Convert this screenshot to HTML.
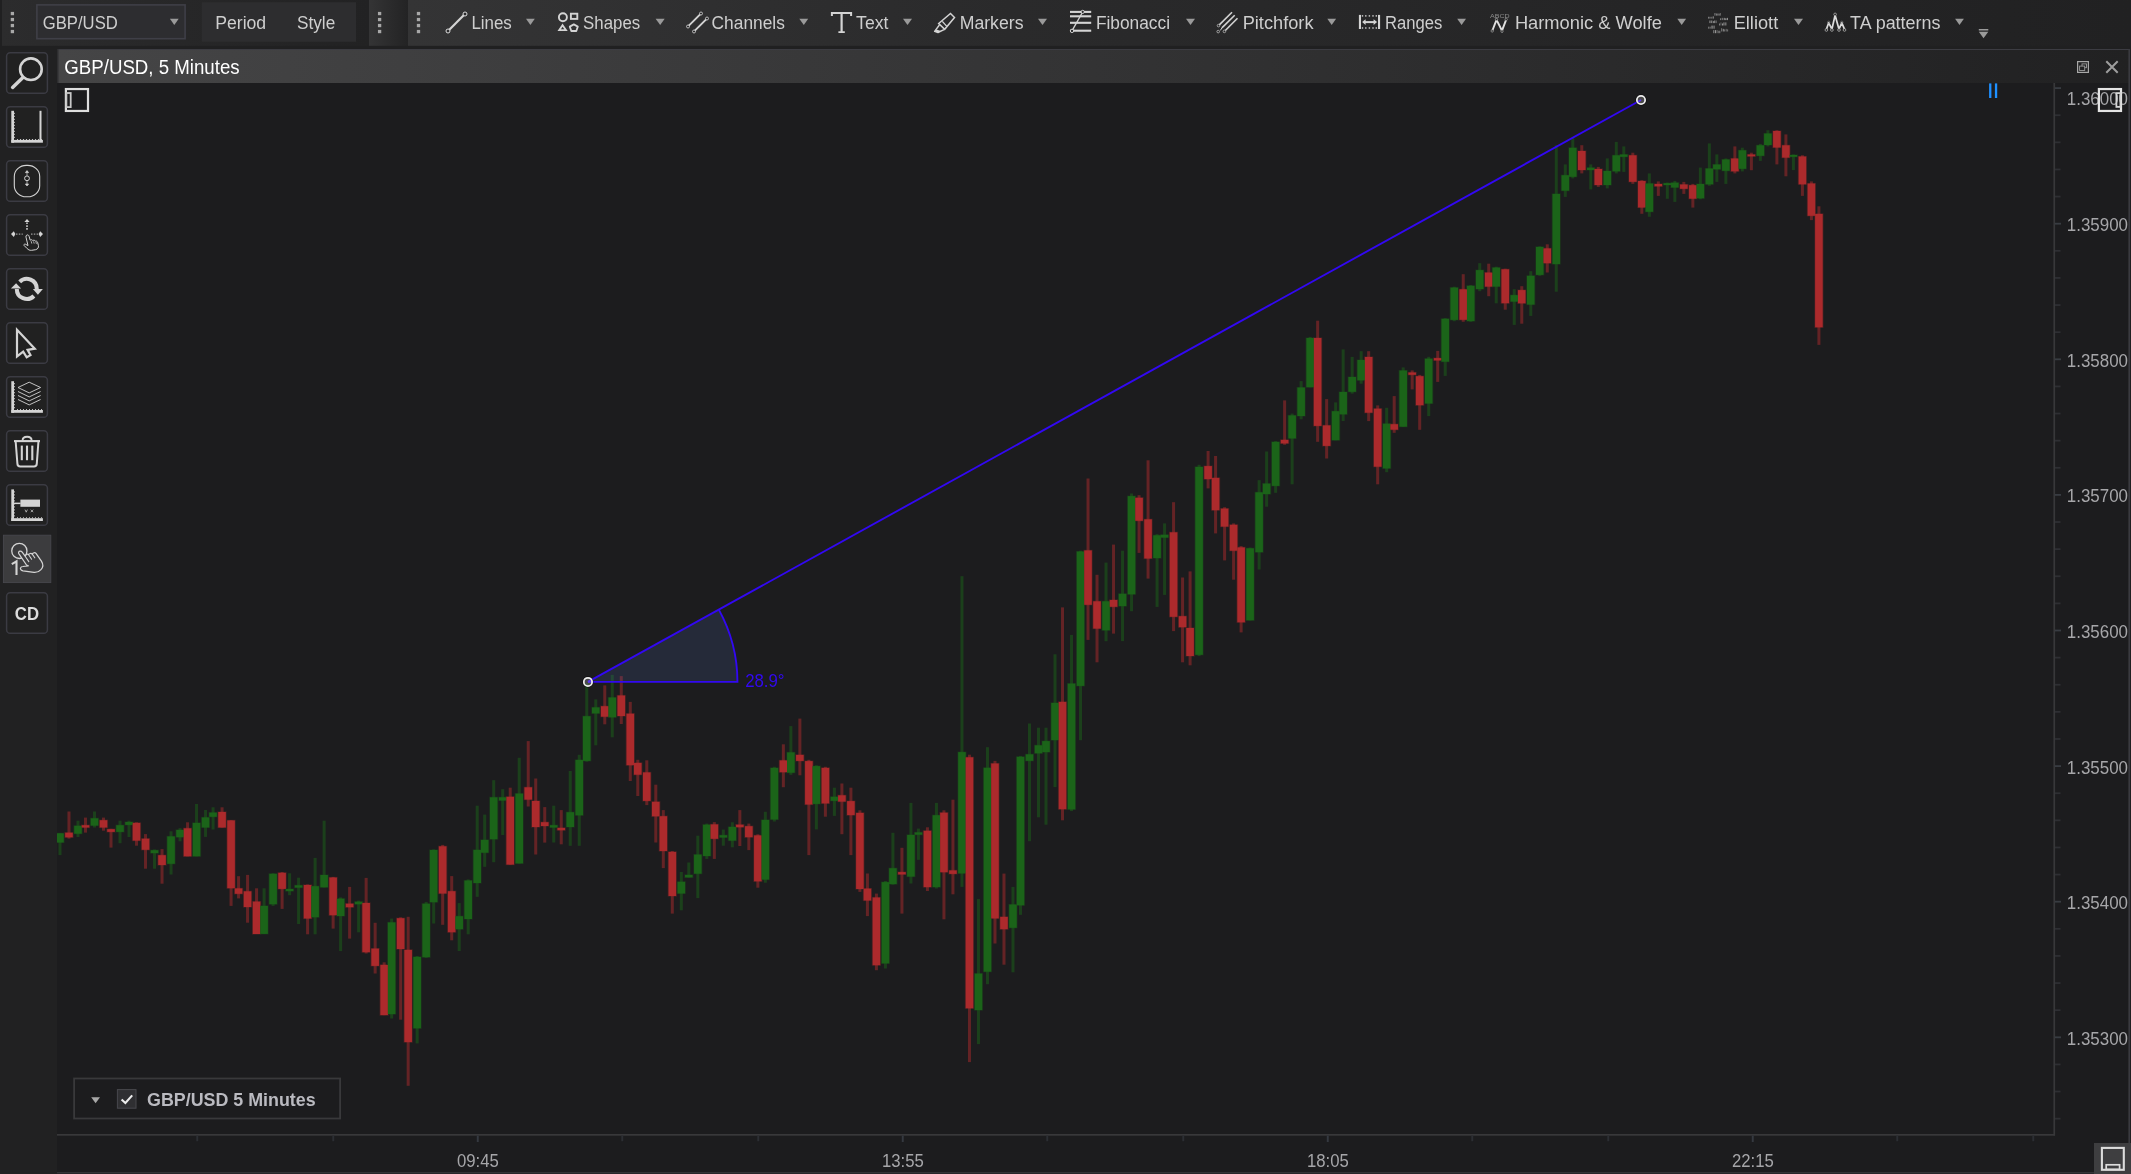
<!DOCTYPE html>
<html><head><meta charset="utf-8"><title>GBP/USD chart</title>
<style>
html,body{margin:0;padding:0;background:#1c1c1e;overflow:hidden;}
body{width:2131px;height:1174px;position:relative;font-family:"Liberation Sans", sans-serif;}
svg{position:absolute;left:0;top:0;display:block;will-change:transform;}
svg text{font-family:"Liberation Sans", sans-serif;white-space:pre;}
</style></head><body>
<svg width="2131" height="1174" viewBox="0 0 2131 1174">
<defs>
<linearGradient id="tb1" x1="0" x2="1" y1="0" y2="0"><stop offset="0" stop-color="#2c2c2d"/><stop offset="1" stop-color="#222223"/></linearGradient>
<linearGradient id="tb2" x1="0" x2="1" y1="0" y2="0"><stop offset="0" stop-color="#343435"/><stop offset="1" stop-color="#232324"/></linearGradient>
<linearGradient id="tb3" x1="0" x2="1" y1="0" y2="0"><stop offset="0" stop-color="#343435"/><stop offset="0.35" stop-color="#2a2a2b"/><stop offset="1" stop-color="#212122"/></linearGradient>
<linearGradient id="ttl" x1="0" x2="1" y1="0" y2="0"><stop offset="0" stop-color="#454546"/><stop offset="1" stop-color="#212122"/></linearGradient>
</defs>
<rect x="0" y="0" width="2131" height="1174" fill="#1c1c1e"/>
<rect x="0" y="0" width="2131" height="50" fill="#202021"/>
<rect x="2" y="0" width="367" height="45.8" fill="url(#tb1)"/>
<rect x="369" y="0" width="39" height="45.8" fill="url(#tb2)"/>
<rect x="408" y="0" width="1723" height="45.8" fill="url(#tb3)"/>
<rect x="0" y="50" width="57" height="1124" fill="#212122"/>
<rect x="57" y="49" width="2073" height="34" fill="url(#ttl)"/>
<rect x="57" y="49" width="2073" height="1" fill="#3c3c42"/>
<rect x="57" y="49" width="1.5" height="34" fill="#2e2e30"/>
<rect x="2128.4" y="49" width="1.6" height="1125" fill="#3a3a40"/>
<rect x="2130" y="49" width="1" height="1125" fill="#202021"/>
<rect x="57" y="1172" width="2073" height="1.5" fill="#333336"/>
<rect x="10.75" y="11.9" width="3.3" height="3.3" fill="#a8a8a8"/>
<rect x="10.75" y="17.9" width="3.3" height="3.3" fill="#a8a8a8"/>
<rect x="10.75" y="23.9" width="3.3" height="3.3" fill="#a8a8a8"/>
<rect x="10.75" y="29.9" width="3.3" height="3.3" fill="#a8a8a8"/>
<rect x="377.95" y="11.9" width="3.3" height="3.3" fill="#a8a8a8"/>
<rect x="377.95" y="17.9" width="3.3" height="3.3" fill="#a8a8a8"/>
<rect x="377.95" y="23.9" width="3.3" height="3.3" fill="#a8a8a8"/>
<rect x="377.95" y="29.9" width="3.3" height="3.3" fill="#a8a8a8"/>
<rect x="416.85" y="11.9" width="3.3" height="3.3" fill="#a8a8a8"/>
<rect x="416.85" y="17.9" width="3.3" height="3.3" fill="#a8a8a8"/>
<rect x="416.85" y="23.9" width="3.3" height="3.3" fill="#a8a8a8"/>
<rect x="416.85" y="29.9" width="3.3" height="3.3" fill="#a8a8a8"/>
<rect x="36.9" y="4.9" width="148.2" height="33.8" fill="#2d2d30" stroke="#3f3f47" stroke-width="1.6"/>
<text x="42.8" y="29.1" font-size="18.7" fill="#cecece" font-weight="normal" textLength="75.0" lengthAdjust="spacingAndGlyphs">GBP/USD</text>
<path d="M169.9 18.8 L178.7 18.8 L174.3 25.0 Z" fill="#9a9a9a"/>
<rect x="201.8" y="2.2" width="154.2" height="39.6" fill="#2d2d2f"/>
<text x="215.2" y="29.1" font-size="18.7" fill="#cecece" font-weight="normal" textLength="51.0" lengthAdjust="spacingAndGlyphs">Period</text>
<text x="297.0" y="29.1" font-size="18.7" fill="#cecece" font-weight="normal" textLength="38.2" lengthAdjust="spacingAndGlyphs">Style</text>
<text x="471.4" y="29.1" font-size="18.7" fill="#cecece" font-weight="normal" textLength="40.4" lengthAdjust="spacingAndGlyphs">Lines</text>
<path d="M526.0 18.8 L534.8 18.8 L530.4 25.0 Z" fill="#9a9a9a"/>
<text x="583.1" y="29.1" font-size="18.7" fill="#cecece" font-weight="normal" textLength="57.1" lengthAdjust="spacingAndGlyphs">Shapes</text>
<path d="M655.6 18.8 L664.7 18.8 L660.2 25.0 Z" fill="#9a9a9a"/>
<text x="711.6" y="29.1" font-size="18.7" fill="#cecece" font-weight="normal" textLength="73.3" lengthAdjust="spacingAndGlyphs">Channels</text>
<path d="M799.3 18.8 L808.2 18.8 L803.8 25.0 Z" fill="#9a9a9a"/>
<text x="856.1" y="29.1" font-size="18.7" fill="#cecece" font-weight="normal" textLength="32.4" lengthAdjust="spacingAndGlyphs">Text</text>
<path d="M903.0 18.8 L912.0 18.8 L907.5 25.0 Z" fill="#9a9a9a"/>
<text x="959.7" y="29.1" font-size="18.7" fill="#cecece" font-weight="normal" textLength="63.8" lengthAdjust="spacingAndGlyphs">Markers</text>
<path d="M1038.0 18.8 L1047.0 18.8 L1042.5 25.0 Z" fill="#9a9a9a"/>
<text x="1095.9" y="29.1" font-size="18.7" fill="#cecece" font-weight="normal" textLength="74.1" lengthAdjust="spacingAndGlyphs">Fibonacci</text>
<path d="M1186.0 18.8 L1195.0 18.8 L1190.5 25.0 Z" fill="#9a9a9a"/>
<text x="1242.7" y="29.1" font-size="18.7" fill="#cecece" font-weight="normal" textLength="70.8" lengthAdjust="spacingAndGlyphs">Pitchfork</text>
<path d="M1327.3 18.8 L1336.1 18.8 L1331.7 25.0 Z" fill="#9a9a9a"/>
<text x="1385.0" y="29.1" font-size="18.7" fill="#cecece" font-weight="normal" textLength="57.3" lengthAdjust="spacingAndGlyphs">Ranges</text>
<path d="M1457.2 18.8 L1466.0 18.8 L1461.6 25.0 Z" fill="#9a9a9a"/>
<text x="1514.9" y="29.1" font-size="18.7" fill="#cecece" font-weight="normal" textLength="147.0" lengthAdjust="spacingAndGlyphs">Harmonic &amp; Wolfe</text>
<path d="M1677.3 18.8 L1686.1 18.8 L1681.7 25.0 Z" fill="#9a9a9a"/>
<text x="1733.7" y="29.1" font-size="18.7" fill="#cecece" font-weight="normal" textLength="44.5" lengthAdjust="spacingAndGlyphs">Elliott</text>
<path d="M1794.0 18.8 L1803.0 18.8 L1798.5 25.0 Z" fill="#9a9a9a"/>
<text x="1850.1" y="29.1" font-size="18.7" fill="#cecece" font-weight="normal" textLength="90.4" lengthAdjust="spacingAndGlyphs">TA patterns</text>
<path d="M1955.1 18.8 L1963.9 18.8 L1959.5 25.0 Z" fill="#9a9a9a"/>
<rect x="1978.8" y="29" width="9.5" height="1.5" fill="#9a9a9a"/>
<path d="M1978.8 31.8 L1988.3 31.8 L1983.55 38.2 Z" fill="#9a9a9a"/>
<line x1="448.8" y1="30.2" x2="464.2" y2="14.8" stroke="#d4d4d4" stroke-width="2.2"/>
<circle cx="448" cy="31" r="2.0" fill="#2c2c2d" stroke="#ececec" stroke-width="0.9"/>
<circle cx="465" cy="14" r="2.0" fill="#2c2c2d" stroke="#ececec" stroke-width="0.9"/>
<circle cx="562.9" cy="17.3" r="4.0" fill="none" stroke="#d4d4d4" stroke-width="1.9"/>
<rect x="570.9" y="13.7" width="6.4" height="5.2" fill="none" stroke="#d4d4d4" stroke-width="1.9"/>
<path d="M562.6 25.2 L566 30.2 L559.2 30.2 Z" fill="none" stroke="#d4d4d4" stroke-width="1.8" stroke-linejoin="miter"/>
<path d="M573.8 24.4 L577.8 26.6 L576.3 31 L571.3 31 L569.8 26.6 Z" fill="none" stroke="#d4d4d4" stroke-width="1.8" stroke-linejoin="round"/>
<line x1="688.6" y1="25.9" x2="700.4" y2="14.1" stroke="#d4d4d4" stroke-width="1.9"/>
<line x1="694.6" y1="30.9" x2="706.4" y2="19.1" stroke="#d4d4d4" stroke-width="1.9"/>
<circle cx="688" cy="26.5" r="1.5" fill="#2c2c2d" stroke="#ececec" stroke-width="0.7"/>
<circle cx="701" cy="13.5" r="1.5" fill="#2c2c2d" stroke="#ececec" stroke-width="0.7"/>
<circle cx="694" cy="31.5" r="1.5" fill="#2c2c2d" stroke="#ececec" stroke-width="0.7"/>
<circle cx="707" cy="18.5" r="1.5" fill="#2c2c2d" stroke="#ececec" stroke-width="0.7"/>
<path d="M830.9 11.9 H852.1 V16.1 H850.1 V14.1 H842.7 V31.3 H844.8 V33 H838.4 V31.3 H840.5 V14.1 H832.9 V16.1 H830.9 Z" fill="#d4d4d4"/>
<path d="M950.5 13.5 L954.5 17.5 L944.7 29.3 L938.7 23.5 Z" fill="none" stroke="#d4d4d4" stroke-width="1.5" stroke-linejoin="miter"/>
<path d="M942.3 21.4 L946.6 26.1" fill="none" stroke="#d4d4d4" stroke-width="1.4"/>
<path d="M939.4 25 L934.6 31.4 L938 32.5 L944 29.6" fill="none" stroke="#d4d4d4" stroke-width="1.4" stroke-linejoin="round"/>
<path d="M936.6 29.4 L934.4 31.5 L938 32.6 L940.8 31 Z" fill="#d4d4d4"/>
<rect x="1070" y="10.85" width="21.2" height="2.1" fill="#d4d4d4"/>
<rect x="1070" y="15.25" width="21.2" height="2.1" fill="#d4d4d4"/>
<rect x="1070" y="21.75" width="21.2" height="2.1" fill="#d4d4d4"/>
<rect x="1070" y="29.65" width="21.2" height="2.1" fill="#d4d4d4"/>
<line x1="1072" y1="30.9" x2="1082.7" y2="11.9" stroke="#d4d4d4" stroke-width="1.3"/>
<circle cx="1072" cy="30.9" r="1.7" fill="#2c2c2d" stroke="#ececec" stroke-width="0.8"/>
<circle cx="1082.7" cy="11.9" r="1.6" fill="#2c2c2d" stroke="#ececec" stroke-width="0.8"/>
<line x1="1219.3" y1="24.9" x2="1232" y2="12.3" stroke="#d4d4d4" stroke-width="1.6"/>
<line x1="1221.9" y1="27.9" x2="1234.7" y2="15.3" stroke="#d4d4d4" stroke-width="1.6"/>
<line x1="1225.3" y1="30.5" x2="1237.5" y2="18.3" stroke="#d4d4d4" stroke-width="1.6"/>
<path d="M1221.9 27.9 L1220.4 30.4" stroke="#d4d4d4" stroke-width="1"/>
<circle cx="1218.5" cy="25.6" r="1.3" fill="none" stroke="#c8c8c8" stroke-width="0.7"/>
<circle cx="1218.2" cy="31.6" r="1.3" fill="none" stroke="#c8c8c8" stroke-width="0.7"/>
<circle cx="1224.4" cy="31.4" r="1.3" fill="none" stroke="#c8c8c8" stroke-width="0.7"/>
<rect x="1358.9" y="14.9" width="2.1" height="14.1" fill="#d4d4d4"/>
<rect x="1378" y="14.9" width="2.1" height="14.1" fill="#d4d4d4"/>
<rect x="1361.8" y="15.2" width="1.4" height="1.4" fill="#d4d4d4"/>
<rect x="1361.8" y="27.3" width="1.4" height="1.4" fill="#d4d4d4"/>
<rect x="1365.1" y="15.2" width="1.4" height="1.4" fill="#d4d4d4"/>
<rect x="1365.1" y="27.3" width="1.4" height="1.4" fill="#d4d4d4"/>
<rect x="1368.7" y="15.2" width="1.4" height="1.4" fill="#d4d4d4"/>
<rect x="1368.7" y="27.3" width="1.4" height="1.4" fill="#d4d4d4"/>
<rect x="1372.3" y="15.2" width="1.4" height="1.4" fill="#d4d4d4"/>
<rect x="1372.3" y="27.3" width="1.4" height="1.4" fill="#d4d4d4"/>
<rect x="1375.6" y="15.2" width="1.4" height="1.4" fill="#d4d4d4"/>
<rect x="1375.6" y="27.3" width="1.4" height="1.4" fill="#d4d4d4"/>
<rect x="1365" y="21.1" width="9.2" height="2" fill="#d4d4d4"/>
<path d="M1362.1 22.1 L1365.6 19.3 V24.9 Z M1377.1 22.1 L1373.6 19.3 V24.9 Z" fill="#d4d4d4"/>
<path d="M1492.4 30.5 L1496.5 19.8 L1502 30.7 L1506.1 19.8" fill="none" stroke="#e0e0e0" stroke-width="1.9" stroke-linejoin="miter"/>
<text x="1490.1" y="17.6" font-size="5.8" fill="#8c8c8c" textLength="19.6" lengthAdjust="spacingAndGlyphs">ABCD</text>
<circle cx="1492.2" cy="31" r="1.2" fill="#262626" stroke="#b0b0b0" stroke-width="0.6"/>
<circle cx="1496.5" cy="19.4" r="1.2" fill="#262626" stroke="#b0b0b0" stroke-width="0.6"/>
<circle cx="1502" cy="31.2" r="1.2" fill="#262626" stroke="#b0b0b0" stroke-width="0.6"/>
<circle cx="1506.2" cy="19.4" r="1.2" fill="#262626" stroke="#b0b0b0" stroke-width="0.6"/>
<rect x="1714.50" y="13.04" width="0.9" height="2.56" fill="#a2a2a2" opacity="0.85"/>
<rect x="1716.30" y="13.52" width="0.7" height="2.08" fill="#a2a2a2" opacity="1"/>
<rect x="1717.50" y="13.52" width="0.9" height="2.08" fill="#a2a2a2" opacity="1"/>
<rect x="1718.90" y="13.52" width="0.7" height="2.08" fill="#a2a2a2" opacity="0.85"/>
<rect x="1720.30" y="13.04" width="0.7" height="2.56" fill="#a2a2a2" opacity="0.7"/>
<rect x="1708.30" y="16.78" width="0.9" height="1.82" fill="#a2a2a2" opacity="1"/>
<rect x="1709.70" y="16.78" width="0.7" height="1.82" fill="#a2a2a2" opacity="1"/>
<rect x="1711.30" y="16.78" width="0.9" height="1.82" fill="#a2a2a2" opacity="0.7"/>
<rect x="1712.70" y="16.36" width="1.1" height="2.24" fill="#a2a2a2" opacity="0.85"/>
<rect x="1720.30" y="18.28" width="0.7" height="1.82" fill="#a2a2a2" opacity="1"/>
<rect x="1721.70" y="17.86" width="1.1" height="2.24" fill="#a2a2a2" opacity="0.7"/>
<rect x="1723.70" y="17.86" width="1.1" height="2.24" fill="#a2a2a2" opacity="0.85"/>
<rect x="1725.30" y="18.28" width="1.1" height="1.82" fill="#a2a2a2" opacity="1"/>
<rect x="1726.90" y="17.86" width="1.1" height="2.24" fill="#a2a2a2" opacity="0.85"/>
<rect x="1709.40" y="20.50" width="1.1" height="2.60" fill="#a2a2a2" opacity="0.85"/>
<rect x="1711.20" y="20.50" width="1.1" height="2.60" fill="#a2a2a2" opacity="0.85"/>
<rect x="1713.00" y="21.02" width="0.7" height="2.08" fill="#a2a2a2" opacity="1"/>
<rect x="1714.20" y="20.50" width="0.7" height="2.60" fill="#a2a2a2" opacity="1"/>
<rect x="1715.60" y="20.50" width="0.9" height="2.60" fill="#a2a2a2" opacity="0.85"/>
<rect x="1719.20" y="23.48" width="0.7" height="2.01" fill="#a2a2a2" opacity="1"/>
<rect x="1720.60" y="22.40" width="0.7" height="3.10" fill="#a2a2a2" opacity="0.7"/>
<rect x="1722.00" y="23.48" width="0.9" height="2.01" fill="#a2a2a2" opacity="1"/>
<rect x="1723.40" y="22.40" width="1.1" height="3.10" fill="#a2a2a2" opacity="0.85"/>
<rect x="1725.40" y="22.40" width="0.9" height="3.10" fill="#a2a2a2" opacity="1"/>
<rect x="1708.10" y="26.68" width="0.7" height="2.01" fill="#a2a2a2" opacity="0.85"/>
<rect x="1709.50" y="26.68" width="1.1" height="2.01" fill="#a2a2a2" opacity="0.7"/>
<rect x="1711.50" y="25.60" width="1.1" height="3.10" fill="#a2a2a2" opacity="1"/>
<rect x="1713.50" y="25.60" width="1.1" height="3.10" fill="#a2a2a2" opacity="0.85"/>
<rect x="1721.20" y="28.20" width="0.9" height="3.30" fill="#a2a2a2" opacity="0.7"/>
<rect x="1722.80" y="28.86" width="0.9" height="2.64" fill="#a2a2a2" opacity="1"/>
<rect x="1724.20" y="29.35" width="0.9" height="2.15" fill="#a2a2a2" opacity="0.7"/>
<rect x="1725.80" y="28.86" width="0.7" height="2.64" fill="#a2a2a2" opacity="0.85"/>
<rect x="1727.20" y="29.35" width="0.9" height="2.15" fill="#a2a2a2" opacity="0.7"/>
<rect x="1713.20" y="30.10" width="0.9" height="3.10" fill="#a2a2a2" opacity="0.7"/>
<rect x="1714.80" y="30.10" width="1.1" height="3.10" fill="#a2a2a2" opacity="1"/>
<rect x="1716.60" y="30.10" width="0.9" height="3.10" fill="#a2a2a2" opacity="0.7"/>
<rect x="1718.00" y="30.72" width="0.7" height="2.48" fill="#a2a2a2" opacity="0.7"/>
<rect x="1719.20" y="30.72" width="1.1" height="2.48" fill="#a2a2a2" opacity="0.7"/>
<path d="M1826.3 29.6 L1828.7 22.8 L1831.9 29.2 L1835.1 15.2 L1839 29.2 L1841.8 22.8 L1844.7 29.6" fill="none" stroke="#dcdcdc" stroke-width="1.7" stroke-linejoin="round"/>
<circle cx="1826.4" cy="30" r="1.35" fill="#242424" stroke="#bcbcbc" stroke-width="0.7"/>
<circle cx="1831.9" cy="30" r="1.35" fill="#242424" stroke="#bcbcbc" stroke-width="0.7"/>
<circle cx="1839" cy="30" r="1.35" fill="#242424" stroke="#bcbcbc" stroke-width="0.7"/>
<circle cx="1844.5" cy="30" r="1.35" fill="#242424" stroke="#bcbcbc" stroke-width="0.7"/>
<circle cx="1835.1" cy="14.4" r="1.35" fill="#242424" stroke="#bcbcbc" stroke-width="0.7"/>
<circle cx="1828.7" cy="22.3" r="1.2" fill="none" stroke="#9a9a9a" stroke-width="0.5"/>
<circle cx="1841.8" cy="22.3" r="1.2" fill="none" stroke="#9a9a9a" stroke-width="0.5"/>
<text x="64.3" y="73.8" font-size="20" fill="#ffffff" font-weight="normal" textLength="175.3" lengthAdjust="spacingAndGlyphs">GBP/USD, 5 Minutes</text>
<rect x="2077.6" y="61.6" width="10.8" height="10.8" fill="none" stroke="#a8a8a8" stroke-width="1.2"/>
<rect x="2082" y="63.9" width="4.5" height="3.8" fill="none" stroke="#9c9c9c" stroke-width="0.9"/>
<rect x="2079.6" y="66.1" width="5.1" height="4.4" fill="#232324" stroke="#9c9c9c" stroke-width="0.9"/>
<path d="M2106.3 61.3 L2117.7 72.7 M2117.7 61.3 L2106.3 72.7" stroke="#9e9e9e" stroke-width="2"/>
<rect x="6.6" y="52.7" width="40.8" height="40.6" rx="3.6" fill="#212121" stroke="#3b3b43" stroke-width="1.5"/>
<rect x="6.6" y="106.7" width="40.8" height="40.6" rx="3.6" fill="#212121" stroke="#3b3b43" stroke-width="1.5"/>
<rect x="6.6" y="160.7" width="40.8" height="40.6" rx="3.6" fill="#212121" stroke="#3b3b43" stroke-width="1.5"/>
<rect x="6.6" y="214.7" width="40.8" height="40.6" rx="3.6" fill="#212121" stroke="#3b3b43" stroke-width="1.5"/>
<rect x="6.6" y="268.7" width="40.8" height="40.6" rx="3.6" fill="#212121" stroke="#3b3b43" stroke-width="1.5"/>
<rect x="6.6" y="322.7" width="40.8" height="40.6" rx="3.6" fill="#212121" stroke="#3b3b43" stroke-width="1.5"/>
<rect x="6.6" y="376.7" width="40.8" height="40.6" rx="3.6" fill="#212121" stroke="#3b3b43" stroke-width="1.5"/>
<rect x="6.6" y="430.7" width="40.8" height="40.6" rx="3.6" fill="#212121" stroke="#3b3b43" stroke-width="1.5"/>
<rect x="6.6" y="484.7" width="40.8" height="40.6" rx="3.6" fill="#212121" stroke="#3b3b43" stroke-width="1.5"/>
<rect x="3.4" y="535.2" width="47.4" height="47.4" fill="#3c3c3e" stroke="#47474d" stroke-width="0.9"/>
<rect x="6.6" y="592.7" width="40.8" height="40.6" rx="3.6" fill="#212121" stroke="#3b3b43" stroke-width="1.5"/>
<circle cx="30.9" cy="69.2" r="10.8" fill="none" stroke="#d4d4d4" stroke-width="2.6"/>
<line x1="22.9" y1="77.6" x2="12.6" y2="87.4" stroke="#d4d4d4" stroke-width="3.5" stroke-linecap="round"/>
<rect x="11.3" y="110.8" width="2.7" height="31.89999999999999" fill="#d4d4d4"/>
<rect x="11.3" y="139.89999999999998" width="31.6" height="2.8" fill="#d4d4d4"/>
<rect x="14" y="112.8" width="0.9" height="1" fill="#d4d4d4"/>
<rect x="14" y="115.8" width="0.9" height="1" fill="#d4d4d4"/>
<rect x="14" y="118.8" width="0.9" height="1" fill="#d4d4d4"/>
<rect x="14" y="121.8" width="0.9" height="1" fill="#d4d4d4"/>
<rect x="14" y="124.8" width="0.9" height="1" fill="#d4d4d4"/>
<rect x="14" y="127.8" width="0.9" height="1" fill="#d4d4d4"/>
<rect x="14" y="130.8" width="0.9" height="1" fill="#d4d4d4"/>
<rect x="14" y="133.8" width="0.9" height="1" fill="#d4d4d4"/>
<rect x="14" y="136.8" width="0.9" height="1" fill="#d4d4d4"/>
<rect x="17.0" y="139.0" width="1" height="0.9" fill="#d4d4d4"/>
<rect x="20.0" y="139.0" width="1" height="0.9" fill="#d4d4d4"/>
<rect x="23.0" y="139.0" width="1" height="0.9" fill="#d4d4d4"/>
<rect x="26.0" y="139.0" width="1" height="0.9" fill="#d4d4d4"/>
<rect x="29.0" y="139.0" width="1" height="0.9" fill="#d4d4d4"/>
<rect x="32.0" y="139.0" width="1" height="0.9" fill="#d4d4d4"/>
<rect x="35.0" y="139.0" width="1" height="0.9" fill="#d4d4d4"/>
<rect x="38.0" y="139.0" width="1" height="0.9" fill="#d4d4d4"/>
<rect x="41.0" y="139.0" width="1" height="0.9" fill="#d4d4d4"/>
<rect x="39.5" y="110.8" width="2" height="29.89999999999999" fill="#d4d4d4"/>
<rect x="14.3" y="165.4" width="25.4" height="31.4" rx="12" ry="11" fill="none" stroke="#d4d4d4" stroke-width="1.1"/>
<circle cx="27" cy="178.3" r="2.4" fill="none" stroke="#d4d4d4" stroke-width="1"/>
<path d="M27 171.6 V175.6 M27 181 V185 M25.4 172.6 L27 170.6 L28.6 172.6 Z M25.4 184 L27 186 L28.6 184 Z" fill="#d4d4d4" stroke="#d4d4d4" stroke-width="0.7"/>
<path d="M27 222.5 V230.5" stroke="#d4d4d4" stroke-width="1.5" stroke-dasharray="1.6 1.2"/>
<path d="M24.4 222 L27 218.9 L29.6 222 Z" fill="#d4d4d4"/>
<path d="M16 234.1 H22.8 M31 234.1 H38.2" stroke="#9c9c9c" stroke-width="1.2" stroke-dasharray="1.5 1.3"/>
<path d="M13.8 231.3 L11 234.1 L13.8 236.9 L15.4 234.1 Z M40.2 231.3 L43 234.1 L40.2 236.9 L38.6 234.1 Z" fill="#d4d4d4"/>
<path d="M26.6 235.2 C27.8 234.4 28.9 235.2 29.2 236.6 L30.2 240.2 C31.2 239.4 32.3 239.6 32.8 240.6 C33.8 239.9 34.9 240.2 35.3 241.2 C36.4 240.8 37.3 241.4 37.6 242.4 L38.4 245.4 C38.9 247.6 37.6 249.2 35.6 249.7 L31.6 250.3 C29.6 250.5 28.4 249.8 27.2 248.6 L24 245.4 C23.6 244.6 24.4 243.8 25.4 244.2 L28 245.6 L26 237.2 C25.8 236.4 26 235.6 26.6 235.2 Z" fill="none" stroke="#d4d4d4" stroke-width="1"/>
<path d="M31.2 241.2 L31.8 243.6 M33.6 241.4 L34.2 243.6 M36 242 L36.4 243.8" stroke="#d4d4d4" stroke-width="0.8" fill="none"/>
<path d="M19.7 281.8 A10 10 0 0 1 36.8 288.9" fill="none" stroke="#d4d4d4" stroke-width="4"/>
<path d="M33.9 296 A10 10 0 0 1 16.8 288.9" fill="none" stroke="#d4d4d4" stroke-width="4"/>
<path d="M10.9 288.6 L21.1 288.6 L16.1 283.2 Z" fill="#d4d4d4"/>
<path d="M32.9 289.1 L42.9 289.1 L37.9 294.8 Z" fill="#d4d4d4"/>
<path d="M17 329.7 V356.4 L23.2 351.6 L26.7 357.3 L30.5 355.1 L27.6 349.8 L34.8 348.7 Z" fill="#212121" stroke="#d4d4d4" stroke-width="2.2" stroke-linejoin="miter" stroke-miterlimit="8"/>
<rect x="11.3" y="381.2" width="2.7" height="31.600000000000023" fill="#d4d4d4"/>
<rect x="11.3" y="410.0" width="31.6" height="2.8" fill="#d4d4d4"/>
<rect x="14" y="383.2" width="0.9" height="1" fill="#d4d4d4"/>
<rect x="14" y="386.2" width="0.9" height="1" fill="#d4d4d4"/>
<rect x="14" y="389.2" width="0.9" height="1" fill="#d4d4d4"/>
<rect x="14" y="392.2" width="0.9" height="1" fill="#d4d4d4"/>
<rect x="14" y="395.2" width="0.9" height="1" fill="#d4d4d4"/>
<rect x="14" y="398.2" width="0.9" height="1" fill="#d4d4d4"/>
<rect x="14" y="401.2" width="0.9" height="1" fill="#d4d4d4"/>
<rect x="14" y="404.2" width="0.9" height="1" fill="#d4d4d4"/>
<rect x="14" y="407.2" width="0.9" height="1" fill="#d4d4d4"/>
<rect x="17.0" y="409.1" width="1" height="0.9" fill="#d4d4d4"/>
<rect x="20.0" y="409.1" width="1" height="0.9" fill="#d4d4d4"/>
<rect x="23.0" y="409.1" width="1" height="0.9" fill="#d4d4d4"/>
<rect x="26.0" y="409.1" width="1" height="0.9" fill="#d4d4d4"/>
<rect x="29.0" y="409.1" width="1" height="0.9" fill="#d4d4d4"/>
<rect x="32.0" y="409.1" width="1" height="0.9" fill="#d4d4d4"/>
<rect x="35.0" y="409.1" width="1" height="0.9" fill="#d4d4d4"/>
<rect x="38.0" y="409.1" width="1" height="0.9" fill="#d4d4d4"/>
<rect x="41.0" y="409.1" width="1" height="0.9" fill="#d4d4d4"/>
<path d="M29.2 382.2 L40.6 387.5 L29.2 392.9 L18 387.5 Z" fill="none" stroke="#d4d4d4" stroke-width="0.9"/>
<path d="M18 391.5 L29.2 396.9 L40.6 391.5" fill="none" stroke="#d4d4d4" stroke-width="0.9"/>
<path d="M18 395.5 L29.2 400.9 L40.6 395.5" fill="none" stroke="#d4d4d4" stroke-width="0.9"/>
<path d="M18 399.5 L29.2 404.9 L40.6 399.5" fill="none" stroke="#d4d4d4" stroke-width="0.9"/>
<path d="M14 441.1 H40" stroke="#d4d4d4" stroke-width="2.1"/>
<path d="M22.6 440.4 C22.6 435.6 31.6 435.6 31.6 440.4" fill="none" stroke="#d4d4d4" stroke-width="1.9"/>
<path d="M15.7 442 L17.4 463.6 C17.5 465.6 18.6 466.4 20.2 466.4 H34 C35.6 466.4 36.7 465.6 36.8 463.6 L38.4 442" fill="none" stroke="#d4d4d4" stroke-width="2"/>
<rect x="20.75" y="445.6" width="2.1" height="14.6" fill="#d4d4d4"/>
<rect x="25.95" y="445.6" width="2.1" height="14.6" fill="#d4d4d4"/>
<rect x="31.249999999999996" y="445.6" width="2.1" height="14.6" fill="#d4d4d4"/>
<rect x="11.3" y="489.4" width="2.7" height="31.600000000000023" fill="#d4d4d4"/>
<rect x="11.3" y="518.2" width="31.6" height="2.8" fill="#d4d4d4"/>
<rect x="14" y="491.4" width="0.9" height="1" fill="#d4d4d4"/>
<rect x="14" y="494.4" width="0.9" height="1" fill="#d4d4d4"/>
<rect x="14" y="497.4" width="0.9" height="1" fill="#d4d4d4"/>
<rect x="14" y="500.4" width="0.9" height="1" fill="#d4d4d4"/>
<rect x="14" y="503.4" width="0.9" height="1" fill="#d4d4d4"/>
<rect x="14" y="506.4" width="0.9" height="1" fill="#d4d4d4"/>
<rect x="14" y="509.4" width="0.9" height="1" fill="#d4d4d4"/>
<rect x="14" y="512.4" width="0.9" height="1" fill="#d4d4d4"/>
<rect x="14" y="515.4" width="0.9" height="1" fill="#d4d4d4"/>
<rect x="17.0" y="517.3" width="1" height="0.9" fill="#d4d4d4"/>
<rect x="20.0" y="517.3" width="1" height="0.9" fill="#d4d4d4"/>
<rect x="23.0" y="517.3" width="1" height="0.9" fill="#d4d4d4"/>
<rect x="26.0" y="517.3" width="1" height="0.9" fill="#d4d4d4"/>
<rect x="29.0" y="517.3" width="1" height="0.9" fill="#d4d4d4"/>
<rect x="32.0" y="517.3" width="1" height="0.9" fill="#d4d4d4"/>
<rect x="35.0" y="517.3" width="1" height="0.9" fill="#d4d4d4"/>
<rect x="38.0" y="517.3" width="1" height="0.9" fill="#d4d4d4"/>
<rect x="41.0" y="517.3" width="1" height="0.9" fill="#d4d4d4"/>
<rect x="14" y="502.6" width="6.6" height="1.5" fill="#d4d4d4"/>
<rect x="20.4" y="499.6" width="19.6" height="7.2" fill="#d4d4d4"/>
<path d="M25 509.6 L26.2 512.2 L27.4 509.6 M30.8 509.6 L33.2 512.2 M33.2 509.6 L30.8 512.2" fill="none" stroke="#d4d4d4" stroke-width="0.7"/>
<circle cx="19.35" cy="550.9" r="7.6" fill="none" stroke="#d4d4d4" stroke-width="1.3"/>
<path d="M11.8 564.2 L16.5 561.4 V575" fill="none" stroke="#d4d4d4" stroke-width="2.1" stroke-linejoin="miter"/>
<path d="M26.5 565 L18.8 553.6 C18.2 552.4 18.8 551.2 20 551.1 C21 551 21.6 551.4 22.2 552.2 L25.3 556.4 C25.6 554.6 27.4 553.6 28.6 554.6 C29.4 553.4 31.2 553 32.2 554.2 C33 552.6 35 552.2 36 553.4 L41.4 561.2 C43.4 564.4 43.2 567.4 41 569.6 C39 571.8 36.6 572.6 34 572.4 L23 570.8 C21 570.4 20 569 20.6 567.8 C21 566.8 21.8 566.6 23 566.5 L28.3 565.9 Z" fill="#3c3c3e" stroke="#d4d4d4" stroke-width="1.25" stroke-linejoin="round"/>
<path d="M25.5 556.8 L28.8 561.6 M28.8 555 L31.6 559.2 M32.4 554.4 L34.8 557.8" stroke="#d4d4d4" stroke-width="1.1" fill="none" stroke-linecap="round"/>
<text x="14.8" y="620.0" font-size="18" fill="#dcdcdc" font-weight="bold" textLength="24.2" lengthAdjust="spacingAndGlyphs">CD</text>
<rect x="2053.4" y="83" width="1.7" height="1052.5" fill="#38383a"/>
<rect x="57" y="1134" width="1998" height="1.7" fill="#38383a"/>
<rect x="2055" y="87.20" width="6" height="1.8" fill="#383c42"/>
<rect x="2055" y="114.32" width="5.5" height="1.8" fill="#2e2f33"/>
<rect x="2055" y="141.44" width="5.5" height="1.8" fill="#2e2f33"/>
<rect x="2055" y="168.56" width="5.5" height="1.8" fill="#2e2f33"/>
<rect x="2055" y="195.68" width="5.5" height="1.8" fill="#2e2f33"/>
<rect x="2055" y="222.80" width="6" height="1.8" fill="#383c42"/>
<rect x="2055" y="249.92" width="5.5" height="1.8" fill="#2e2f33"/>
<rect x="2055" y="277.04" width="5.5" height="1.8" fill="#2e2f33"/>
<rect x="2055" y="304.16" width="5.5" height="1.8" fill="#2e2f33"/>
<rect x="2055" y="331.28" width="5.5" height="1.8" fill="#2e2f33"/>
<rect x="2055" y="358.40" width="6" height="1.8" fill="#383c42"/>
<rect x="2055" y="385.52" width="5.5" height="1.8" fill="#2e2f33"/>
<rect x="2055" y="412.64" width="5.5" height="1.8" fill="#2e2f33"/>
<rect x="2055" y="439.76" width="5.5" height="1.8" fill="#2e2f33"/>
<rect x="2055" y="466.88" width="5.5" height="1.8" fill="#2e2f33"/>
<rect x="2055" y="494.00" width="6" height="1.8" fill="#383c42"/>
<rect x="2055" y="521.12" width="5.5" height="1.8" fill="#2e2f33"/>
<rect x="2055" y="548.24" width="5.5" height="1.8" fill="#2e2f33"/>
<rect x="2055" y="575.36" width="5.5" height="1.8" fill="#2e2f33"/>
<rect x="2055" y="602.48" width="5.5" height="1.8" fill="#2e2f33"/>
<rect x="2055" y="629.60" width="6" height="1.8" fill="#383c42"/>
<rect x="2055" y="656.72" width="5.5" height="1.8" fill="#2e2f33"/>
<rect x="2055" y="683.84" width="5.5" height="1.8" fill="#2e2f33"/>
<rect x="2055" y="710.96" width="5.5" height="1.8" fill="#2e2f33"/>
<rect x="2055" y="738.08" width="5.5" height="1.8" fill="#2e2f33"/>
<rect x="2055" y="765.20" width="6" height="1.8" fill="#383c42"/>
<rect x="2055" y="792.32" width="5.5" height="1.8" fill="#2e2f33"/>
<rect x="2055" y="819.44" width="5.5" height="1.8" fill="#2e2f33"/>
<rect x="2055" y="846.56" width="5.5" height="1.8" fill="#2e2f33"/>
<rect x="2055" y="873.68" width="5.5" height="1.8" fill="#2e2f33"/>
<rect x="2055" y="900.80" width="6" height="1.8" fill="#383c42"/>
<rect x="2055" y="927.92" width="5.5" height="1.8" fill="#2e2f33"/>
<rect x="2055" y="955.04" width="5.5" height="1.8" fill="#2e2f33"/>
<rect x="2055" y="982.16" width="5.5" height="1.8" fill="#2e2f33"/>
<rect x="2055" y="1009.28" width="5.5" height="1.8" fill="#2e2f33"/>
<rect x="2055" y="1036.40" width="6" height="1.8" fill="#383c42"/>
<rect x="2055" y="1063.52" width="5.5" height="1.8" fill="#2e2f33"/>
<rect x="2055" y="1090.64" width="5.5" height="1.8" fill="#2e2f33"/>
<rect x="2055" y="1117.76" width="5.5" height="1.8" fill="#2e2f33"/>
<text x="2066.8" y="105.4" font-size="18.8" fill="#a6a6a9" font-weight="normal" textLength="61.2" lengthAdjust="spacingAndGlyphs">1.36000</text>
<text x="2066.8" y="231.1" font-size="18.8" fill="#a6a6a9" font-weight="normal" textLength="61.2" lengthAdjust="spacingAndGlyphs">1.35900</text>
<text x="2066.8" y="366.7" font-size="18.8" fill="#a6a6a9" font-weight="normal" textLength="61.2" lengthAdjust="spacingAndGlyphs">1.35800</text>
<text x="2066.8" y="502.3" font-size="18.8" fill="#a6a6a9" font-weight="normal" textLength="61.2" lengthAdjust="spacingAndGlyphs">1.35700</text>
<text x="2066.8" y="637.9" font-size="18.8" fill="#a6a6a9" font-weight="normal" textLength="61.2" lengthAdjust="spacingAndGlyphs">1.35600</text>
<text x="2066.8" y="773.5" font-size="18.8" fill="#a6a6a9" font-weight="normal" textLength="61.2" lengthAdjust="spacingAndGlyphs">1.35500</text>
<text x="2066.8" y="909.1" font-size="18.8" fill="#a6a6a9" font-weight="normal" textLength="61.2" lengthAdjust="spacingAndGlyphs">1.35400</text>
<text x="2066.8" y="1044.7" font-size="18.8" fill="#a6a6a9" font-weight="normal" textLength="61.2" lengthAdjust="spacingAndGlyphs">1.35300</text>
<rect x="476.80" y="1135.6" width="1.9" height="6.4" fill="#353940"/>
<rect x="621.30" y="1135.6" width="1.9" height="5.6" fill="#2c2e33"/>
<rect x="757.30" y="1135.6" width="1.9" height="5.6" fill="#2c2e33"/>
<rect x="901.80" y="1135.6" width="1.9" height="6.4" fill="#353940"/>
<rect x="1046.30" y="1135.6" width="1.9" height="5.6" fill="#2c2e33"/>
<rect x="1182.30" y="1135.6" width="1.9" height="5.6" fill="#2c2e33"/>
<rect x="1326.80" y="1135.6" width="1.9" height="6.4" fill="#353940"/>
<rect x="1471.30" y="1135.6" width="1.9" height="5.6" fill="#2c2e33"/>
<rect x="1607.30" y="1135.6" width="1.9" height="5.6" fill="#2c2e33"/>
<rect x="1751.80" y="1135.6" width="1.9" height="6.4" fill="#353940"/>
<rect x="1896.30" y="1135.6" width="1.9" height="5.6" fill="#2c2e33"/>
<rect x="2032.30" y="1135.6" width="1.9" height="5.6" fill="#2c2e33"/>
<rect x="332.30" y="1135.6" width="1.9" height="5.6" fill="#2c2e33"/>
<rect x="196.30" y="1135.6" width="1.9" height="5.6" fill="#2c2e33"/>
<text x="456.9" y="1166.9" font-size="18.8" fill="#a6a6a9" font-weight="normal" textLength="41.9" lengthAdjust="spacingAndGlyphs">09:45</text>
<text x="882.0" y="1166.9" font-size="18.8" fill="#a6a6a9" font-weight="normal" textLength="41.8" lengthAdjust="spacingAndGlyphs">13:55</text>
<text x="1307.0" y="1166.9" font-size="18.8" fill="#a6a6a9" font-weight="normal" textLength="41.8" lengthAdjust="spacingAndGlyphs">18:05</text>
<text x="1732.0" y="1166.9" font-size="18.8" fill="#a6a6a9" font-weight="normal" textLength="41.8" lengthAdjust="spacingAndGlyphs">22:15</text>
<clipPath id="cclip"><rect x="57" y="83" width="1996.4" height="1051"/></clipPath>
<g clip-path="url(#cclip)">
<g opacity="0.5"><rect x="58.48" y="833.2" width="3" height="21.9" fill="#1b6419"/><rect x="67.48" y="811.5" width="3" height="27.1" fill="#ac2a2c"/><rect x="76.49" y="820.7" width="3" height="16.3" fill="#1b6419"/><rect x="83.99" y="817.6" width="3" height="15.0" fill="#ac2a2c"/><rect x="93.00" y="811.5" width="3" height="16.0" fill="#1b6419"/><rect x="102.00" y="817.6" width="3" height="13.1" fill="#ac2a2c"/><rect x="109.50" y="828.8" width="3" height="18.8" fill="#ac2a2c"/><rect x="118.51" y="820.7" width="3" height="22.5" fill="#1b6419"/><rect x="127.51" y="820.7" width="3" height="16.3" fill="#1b6419"/><rect x="135.02" y="822.3" width="3" height="23.4" fill="#ac2a2c"/><rect x="144.02" y="834.1" width="3" height="34.6" fill="#ac2a2c"/><rect x="153.03" y="849.5" width="3" height="19.2" fill="#1b6419"/><rect x="160.53" y="849.1" width="3" height="34.6" fill="#ac2a2c"/><rect x="169.54" y="831.3" width="3" height="43.2" fill="#1b6419"/><rect x="178.54" y="828.2" width="3" height="13.1" fill="#1b6419"/><rect x="186.05" y="822.3" width="3" height="34.1" fill="#ac2a2c"/><rect x="195.05" y="804.0" width="3" height="52.3" fill="#1b6419"/><rect x="204.05" y="810.0" width="3" height="26.9" fill="#1b6419"/><rect x="211.56" y="807.3" width="3" height="22.2" fill="#1b6419"/><rect x="220.56" y="807.3" width="3" height="20.3" fill="#ac2a2c"/><rect x="229.57" y="820.1" width="3" height="85.8" fill="#ac2a2c"/><rect x="237.07" y="876.2" width="3" height="22.2" fill="#ac2a2c"/><rect x="246.08" y="874.9" width="3" height="47.8" fill="#ac2a2c"/><rect x="255.08" y="888.3" width="3" height="45.7" fill="#ac2a2c"/><rect x="262.59" y="888.3" width="3" height="45.7" fill="#1b6419"/><rect x="271.59" y="873.3" width="3" height="32.6" fill="#1b6419"/><rect x="280.60" y="872.0" width="3" height="36.9" fill="#ac2a2c"/><rect x="288.10" y="873.3" width="3" height="21.9" fill="#1b6419"/><rect x="297.10" y="877.7" width="3" height="46.3" fill="#1b6419"/><rect x="306.11" y="884.4" width="3" height="49.9" fill="#ac2a2c"/><rect x="313.61" y="857.9" width="3" height="76.4" fill="#1b6419"/><rect x="322.62" y="820.7" width="3" height="66.7" fill="#1b6419"/><rect x="331.62" y="876.9" width="3" height="51.7" fill="#ac2a2c"/><rect x="339.13" y="897.4" width="3" height="53.7" fill="#1b6419"/><rect x="348.13" y="886.9" width="3" height="51.7" fill="#ac2a2c"/><rect x="357.14" y="900.6" width="3" height="31.7" fill="#1b6419"/><rect x="364.64" y="877.9" width="3" height="75.6" fill="#ac2a2c"/><rect x="373.65" y="922.8" width="3" height="50.7" fill="#ac2a2c"/><rect x="382.65" y="962.3" width="3" height="52.9" fill="#ac2a2c"/><rect x="390.15" y="918.6" width="3" height="99.9" fill="#1b6419"/><rect x="399.16" y="917.3" width="3" height="102.4" fill="#ac2a2c"/><rect x="406.66" y="916.8" width="3" height="169.0" fill="#ac2a2c"/><rect x="415.67" y="956.0" width="3" height="87.4" fill="#1b6419"/><rect x="424.67" y="901.9" width="3" height="55.9" fill="#1b6419"/><rect x="432.18" y="849.4" width="3" height="74.1" fill="#1b6419"/><rect x="441.18" y="844.9" width="3" height="79.9" fill="#ac2a2c"/><rect x="450.19" y="876.1" width="3" height="64.2" fill="#ac2a2c"/><rect x="457.69" y="903.1" width="3" height="47.9" fill="#1b6419"/><rect x="466.69" y="879.4" width="3" height="54.9" fill="#1b6419"/><rect x="475.70" y="805.7" width="3" height="91.1" fill="#1b6419"/><rect x="483.20" y="814.6" width="3" height="52.2" fill="#1b6419"/><rect x="492.21" y="780.2" width="3" height="82.0" fill="#1b6419"/><rect x="501.21" y="789.2" width="3" height="45.8" fill="#1b6419"/><rect x="508.72" y="787.7" width="3" height="77.0" fill="#ac2a2c"/><rect x="517.72" y="757.8" width="3" height="105.7" fill="#1b6419"/><rect x="526.73" y="741.1" width="3" height="65.4" fill="#ac2a2c"/><rect x="534.23" y="778.5" width="3" height="76.0" fill="#ac2a2c"/><rect x="543.24" y="807.1" width="3" height="35.5" fill="#ac2a2c"/><rect x="552.24" y="805.7" width="3" height="36.8" fill="#1b6419"/><rect x="559.74" y="810.1" width="3" height="34.2" fill="#ac2a2c"/><rect x="568.75" y="771.0" width="3" height="74.8" fill="#1b6419"/><rect x="577.75" y="754.8" width="3" height="91.0" fill="#1b6419"/><rect x="585.26" y="683.6" width="3" height="78.1" fill="#1b6419"/><rect x="594.26" y="699.4" width="3" height="45.9" fill="#1b6419"/><rect x="603.27" y="685.4" width="3" height="38.9" fill="#ac2a2c"/><rect x="610.77" y="674.9" width="3" height="62.4" fill="#1b6419"/><rect x="619.78" y="676.1" width="3" height="47.9" fill="#ac2a2c"/><rect x="628.78" y="701.9" width="3" height="79.1" fill="#ac2a2c"/><rect x="636.29" y="759.8" width="3" height="36.2" fill="#ac2a2c"/><rect x="645.29" y="760.3" width="3" height="44.8" fill="#ac2a2c"/><rect x="654.29" y="784.7" width="3" height="57.8" fill="#ac2a2c"/><rect x="661.80" y="810.1" width="3" height="58.0" fill="#ac2a2c"/><rect x="670.80" y="851.0" width="3" height="62.6" fill="#ac2a2c"/><rect x="679.81" y="872.0" width="3" height="38.3" fill="#1b6419"/><rect x="687.31" y="862.5" width="3" height="15.0" fill="#1b6419"/><rect x="696.32" y="835.7" width="3" height="62.4" fill="#1b6419"/><rect x="705.32" y="823.6" width="3" height="35.3" fill="#1b6419"/><rect x="712.83" y="822.1" width="3" height="36.8" fill="#ac2a2c"/><rect x="721.83" y="829.6" width="3" height="16.1" fill="#1b6419"/><rect x="730.84" y="822.3" width="3" height="25.0" fill="#1b6419"/><rect x="738.34" y="810.1" width="3" height="35.9" fill="#ac2a2c"/><rect x="747.34" y="823.6" width="3" height="26.5" fill="#ac2a2c"/><rect x="756.35" y="834.3" width="3" height="53.4" fill="#ac2a2c"/><rect x="763.85" y="811.8" width="3" height="70.9" fill="#1b6419"/><rect x="772.86" y="766.8" width="3" height="54.7" fill="#1b6419"/><rect x="781.86" y="744.3" width="3" height="42.9" fill="#ac2a2c"/><rect x="789.37" y="726.1" width="3" height="48.7" fill="#1b6419"/><rect x="798.37" y="718.6" width="3" height="56.7" fill="#ac2a2c"/><rect x="807.38" y="759.8" width="3" height="95.3" fill="#ac2a2c"/><rect x="814.88" y="765.3" width="3" height="64.1" fill="#1b6419"/><rect x="823.89" y="766.8" width="3" height="49.9" fill="#ac2a2c"/><rect x="832.89" y="787.7" width="3" height="28.2" fill="#1b6419"/><rect x="840.39" y="783.5" width="3" height="50.7" fill="#ac2a2c"/><rect x="849.40" y="787.7" width="3" height="67.4" fill="#ac2a2c"/><rect x="858.40" y="810.3" width="3" height="81.6" fill="#ac2a2c"/><rect x="865.91" y="873.5" width="3" height="42.6" fill="#ac2a2c"/><rect x="874.91" y="893.6" width="3" height="76.6" fill="#ac2a2c"/><rect x="883.92" y="881.0" width="3" height="87.5" fill="#1b6419"/><rect x="891.42" y="832.8" width="3" height="51.9" fill="#1b6419"/><rect x="900.43" y="847.8" width="3" height="65.8" fill="#ac2a2c"/><rect x="909.43" y="802.9" width="3" height="80.6" fill="#1b6419"/><rect x="916.93" y="828.6" width="3" height="31.2" fill="#1b6419"/><rect x="925.94" y="827.3" width="3" height="63.7" fill="#ac2a2c"/><rect x="934.94" y="802.9" width="3" height="85.6" fill="#1b6419"/><rect x="942.45" y="810.3" width="3" height="109.0" fill="#ac2a2c"/><rect x="951.45" y="799.7" width="3" height="94.6" fill="#ac2a2c"/><rect x="960.46" y="576.2" width="3" height="310.7" fill="#1b6419"/><rect x="967.96" y="754.7" width="3" height="307.4" fill="#ac2a2c"/><rect x="976.97" y="899.1" width="3" height="145.0" fill="#1b6419"/><rect x="985.97" y="747.2" width="3" height="237.0" fill="#1b6419"/><rect x="993.48" y="760.9" width="3" height="182.6" fill="#ac2a2c"/><rect x="1002.48" y="873.6" width="3" height="91.1" fill="#ac2a2c"/><rect x="1011.49" y="886.9" width="3" height="85.4" fill="#1b6419"/><rect x="1018.99" y="755.9" width="3" height="158.9" fill="#1b6419"/><rect x="1027.99" y="723.5" width="3" height="117.7" fill="#1b6419"/><rect x="1037.00" y="727.7" width="3" height="89.6" fill="#1b6419"/><rect x="1044.50" y="727.7" width="3" height="97.0" fill="#1b6419"/><rect x="1053.51" y="654.3" width="3" height="132.8" fill="#1b6419"/><rect x="1061.01" y="607.4" width="3" height="212.9" fill="#ac2a2c"/><rect x="1070.02" y="634.9" width="3" height="176.2" fill="#1b6419"/><rect x="1079.02" y="550.7" width="3" height="189.5" fill="#1b6419"/><rect x="1086.53" y="478.5" width="3" height="161.4" fill="#ac2a2c"/><rect x="1095.53" y="574.8" width="3" height="87.5" fill="#ac2a2c"/><rect x="1104.53" y="562.6" width="3" height="78.6" fill="#1b6419"/><rect x="1112.04" y="544.6" width="3" height="89.0" fill="#ac2a2c"/><rect x="1121.04" y="550.7" width="3" height="90.4" fill="#1b6419"/><rect x="1130.05" y="493.5" width="3" height="117.7" fill="#1b6419"/><rect x="1137.55" y="495.2" width="3" height="57.7" fill="#ac2a2c"/><rect x="1146.56" y="460.3" width="3" height="118.3" fill="#ac2a2c"/><rect x="1155.56" y="534.2" width="3" height="72.7" fill="#1b6419"/><rect x="1163.07" y="523.4" width="3" height="71.5" fill="#1b6419"/><rect x="1172.07" y="502.2" width="3" height="128.9" fill="#ac2a2c"/><rect x="1181.08" y="577.5" width="3" height="84.8" fill="#ac2a2c"/><rect x="1188.58" y="571.4" width="3" height="93.9" fill="#ac2a2c"/><rect x="1197.58" y="464.8" width="3" height="191.3" fill="#1b6419"/><rect x="1206.59" y="451.0" width="3" height="37.4" fill="#ac2a2c"/><rect x="1214.09" y="456.0" width="3" height="77.4" fill="#ac2a2c"/><rect x="1223.10" y="507.2" width="3" height="53.2" fill="#ac2a2c"/><rect x="1232.10" y="523.4" width="3" height="56.3" fill="#ac2a2c"/><rect x="1239.61" y="546.1" width="3" height="86.3" fill="#ac2a2c"/><rect x="1248.61" y="547.6" width="3" height="72.8" fill="#1b6419"/><rect x="1257.62" y="480.2" width="3" height="89.3" fill="#1b6419"/><rect x="1265.12" y="451.5" width="3" height="55.2" fill="#1b6419"/><rect x="1274.13" y="441.1" width="3" height="51.7" fill="#1b6419"/><rect x="1283.13" y="400.4" width="3" height="44.4" fill="#ac2a2c"/><rect x="1290.63" y="413.6" width="3" height="70.7" fill="#1b6419"/><rect x="1299.64" y="381.1" width="3" height="38.2" fill="#1b6419"/><rect x="1308.64" y="336.9" width="3" height="50.4" fill="#1b6419"/><rect x="1316.15" y="320.7" width="3" height="121.1" fill="#ac2a2c"/><rect x="1325.15" y="399.1" width="3" height="59.4" fill="#ac2a2c"/><rect x="1334.16" y="402.4" width="3" height="37.9" fill="#1b6419"/><rect x="1341.66" y="349.4" width="3" height="71.6" fill="#1b6419"/><rect x="1350.67" y="356.9" width="3" height="36.7" fill="#1b6419"/><rect x="1359.67" y="351.2" width="3" height="32.5" fill="#1b6419"/><rect x="1367.17" y="351.2" width="3" height="69.9" fill="#ac2a2c"/><rect x="1376.18" y="405.4" width="3" height="78.9" fill="#ac2a2c"/><rect x="1385.18" y="407.8" width="3" height="64.4" fill="#1b6419"/><rect x="1392.69" y="396.1" width="3" height="36.7" fill="#ac2a2c"/><rect x="1401.69" y="367.4" width="3" height="59.4" fill="#1b6419"/><rect x="1410.70" y="370.4" width="3" height="19.0" fill="#ac2a2c"/><rect x="1418.20" y="374.9" width="3" height="54.9" fill="#ac2a2c"/><rect x="1427.21" y="356.8" width="3" height="59.3" fill="#1b6419"/><rect x="1436.21" y="350.9" width="3" height="31.0" fill="#ac2a2c"/><rect x="1443.72" y="318.1" width="3" height="57.8" fill="#1b6419"/><rect x="1452.72" y="286.7" width="3" height="34.5" fill="#1b6419"/><rect x="1461.73" y="274.2" width="3" height="47.6" fill="#ac2a2c"/><rect x="1469.23" y="285.0" width="3" height="36.8" fill="#1b6419"/><rect x="1478.23" y="263.2" width="3" height="28.0" fill="#1b6419"/><rect x="1487.24" y="263.7" width="3" height="32.5" fill="#ac2a2c"/><rect x="1494.74" y="266.7" width="3" height="36.6" fill="#1b6419"/><rect x="1503.75" y="268.7" width="3" height="41.0" fill="#ac2a2c"/><rect x="1512.75" y="289.2" width="3" height="35.7" fill="#1b6419"/><rect x="1520.26" y="286.2" width="3" height="37.5" fill="#ac2a2c"/><rect x="1529.26" y="271.2" width="3" height="44.7" fill="#1b6419"/><rect x="1538.27" y="246.3" width="3" height="29.5" fill="#1b6419"/><rect x="1545.77" y="244.3" width="3" height="28.2" fill="#ac2a2c"/><rect x="1554.77" y="145.2" width="3" height="146.5" fill="#1b6419"/><rect x="1563.78" y="164.4" width="3" height="32.5" fill="#1b6419"/><rect x="1571.28" y="137.7" width="3" height="40.7" fill="#1b6419"/><rect x="1580.29" y="145.2" width="3" height="28.2" fill="#ac2a2c"/><rect x="1589.29" y="164.4" width="3" height="25.0" fill="#1b6419"/><rect x="1596.80" y="166.9" width="3" height="20.0" fill="#ac2a2c"/><rect x="1605.80" y="158.4" width="3" height="30.0" fill="#1b6419"/><rect x="1614.81" y="141.9" width="3" height="31.5" fill="#1b6419"/><rect x="1622.31" y="146.4" width="3" height="25.5" fill="#1b6419"/><rect x="1631.32" y="152.7" width="3" height="31.2" fill="#ac2a2c"/><rect x="1640.32" y="180.1" width="3" height="33.7" fill="#ac2a2c"/><rect x="1647.82" y="173.4" width="3" height="43.4" fill="#1b6419"/><rect x="1656.83" y="181.4" width="3" height="14.5" fill="#ac2a2c"/><rect x="1665.83" y="182.6" width="3" height="16.2" fill="#1b6419"/><rect x="1673.34" y="180.9" width="3" height="21.0" fill="#1b6419"/><rect x="1682.34" y="181.9" width="3" height="12.0" fill="#ac2a2c"/><rect x="1691.35" y="183.9" width="3" height="23.7" fill="#ac2a2c"/><rect x="1698.85" y="167.6" width="3" height="31.7" fill="#1b6419"/><rect x="1707.86" y="143.4" width="3" height="42.4" fill="#1b6419"/><rect x="1715.36" y="154.4" width="3" height="27.5" fill="#1b6419"/><rect x="1724.37" y="158.4" width="3" height="25.5" fill="#1b6419"/><rect x="1733.37" y="146.4" width="3" height="27.0" fill="#ac2a2c"/><rect x="1740.87" y="147.7" width="3" height="23.7" fill="#1b6419"/><rect x="1749.88" y="152.7" width="3" height="17.5" fill="#ac2a2c"/><rect x="1758.88" y="143.9" width="3" height="17.0" fill="#1b6419"/><rect x="1766.39" y="130.2" width="3" height="16.2" fill="#1b6419"/><rect x="1775.39" y="130.2" width="3" height="34.2" fill="#ac2a2c"/><rect x="1784.40" y="134.4" width="3" height="41.9" fill="#ac2a2c"/><rect x="1791.90" y="154.4" width="3" height="15.7" fill="#1b6419"/><rect x="1800.91" y="155.2" width="3" height="40.7" fill="#ac2a2c"/><rect x="1809.91" y="181.4" width="3" height="38.7" fill="#ac2a2c"/><rect x="1817.41" y="206.3" width="3" height="138.6" fill="#ac2a2c"/></g>
<g opacity="0.27"><rect x="55.38" y="832.7" width="9.2" height="10.4" fill="#1b6419"/><rect x="64.38" y="832.1" width="9.2" height="5.8" fill="#ac2a2c"/><rect x="73.39" y="825.2" width="9.2" height="9.1" fill="#1b6419"/><rect x="80.89" y="824.6" width="9.2" height="3.5" fill="#ac2a2c"/><rect x="89.90" y="817.7" width="9.2" height="8.5" fill="#1b6419"/><rect x="98.90" y="819.6" width="9.2" height="8.5" fill="#ac2a2c"/><rect x="106.40" y="828.6" width="9.2" height="3.9" fill="#ac2a2c"/><rect x="115.41" y="824.6" width="9.2" height="7.9" fill="#1b6419"/><rect x="124.41" y="821.4" width="9.2" height="4.1" fill="#1b6419"/><rect x="131.92" y="822.3" width="9.2" height="18.9" fill="#ac2a2c"/><rect x="140.92" y="838.1" width="9.2" height="12.3" fill="#ac2a2c"/><rect x="149.93" y="849.6" width="9.2" height="4.1" fill="#1b6419"/><rect x="157.43" y="854.6" width="9.2" height="11.0" fill="#ac2a2c"/><rect x="166.44" y="835.8" width="9.2" height="28.6" fill="#1b6419"/><rect x="175.44" y="829.3" width="9.2" height="8.5" fill="#1b6419"/><rect x="182.95" y="827.7" width="9.2" height="29.2" fill="#ac2a2c"/><rect x="191.95" y="822.3" width="9.2" height="34.6" fill="#1b6419"/><rect x="200.95" y="816.8" width="9.2" height="11.3" fill="#1b6419"/><rect x="208.46" y="812.0" width="9.2" height="5.4" fill="#1b6419"/><rect x="217.46" y="811.4" width="9.2" height="16.7" fill="#ac2a2c"/><rect x="226.47" y="819.8" width="9.2" height="69.0" fill="#ac2a2c"/><rect x="233.97" y="887.8" width="9.2" height="6.6" fill="#ac2a2c"/><rect x="242.98" y="890.7" width="9.2" height="16.9" fill="#ac2a2c"/><rect x="251.98" y="901.0" width="9.2" height="33.6" fill="#ac2a2c"/><rect x="259.49" y="905.3" width="9.2" height="29.2" fill="#1b6419"/><rect x="268.49" y="873.2" width="9.2" height="31.6" fill="#1b6419"/><rect x="277.50" y="872.2" width="9.2" height="17.3" fill="#ac2a2c"/><rect x="285.00" y="888.4" width="9.2" height="3.3" fill="#1b6419"/><rect x="294.00" y="884.7" width="9.2" height="3.5" fill="#1b6419"/><rect x="303.01" y="884.4" width="9.2" height="34.7" fill="#ac2a2c"/><rect x="310.51" y="885.6" width="9.2" height="32.2" fill="#1b6419"/><rect x="319.52" y="874.4" width="9.2" height="13.5" fill="#1b6419"/><rect x="328.52" y="876.9" width="9.2" height="38.9" fill="#ac2a2c"/><rect x="336.03" y="898.1" width="9.2" height="18.5" fill="#1b6419"/><rect x="345.03" y="903.1" width="9.2" height="4.7" fill="#ac2a2c"/><rect x="354.04" y="901.1" width="9.2" height="3.7" fill="#1b6419"/><rect x="361.54" y="902.4" width="9.2" height="50.4" fill="#ac2a2c"/><rect x="370.55" y="948.0" width="9.2" height="18.5" fill="#ac2a2c"/><rect x="379.55" y="964.3" width="9.2" height="51.4" fill="#ac2a2c"/><rect x="387.05" y="921.8" width="9.2" height="92.9" fill="#1b6419"/><rect x="396.06" y="917.6" width="9.2" height="32.0" fill="#ac2a2c"/><rect x="403.56" y="949.3" width="9.2" height="93.4" fill="#ac2a2c"/><rect x="412.57" y="956.3" width="9.2" height="72.6" fill="#1b6419"/><rect x="421.57" y="903.1" width="9.2" height="54.7" fill="#1b6419"/><rect x="429.08" y="849.4" width="9.2" height="53.4" fill="#1b6419"/><rect x="438.08" y="845.7" width="9.2" height="48.4" fill="#ac2a2c"/><rect x="447.09" y="890.6" width="9.2" height="42.2" fill="#ac2a2c"/><rect x="454.59" y="915.6" width="9.2" height="14.2" fill="#1b6419"/><rect x="463.59" y="879.9" width="9.2" height="39.7" fill="#1b6419"/><rect x="472.60" y="849.3" width="9.2" height="34.3" fill="#1b6419"/><rect x="480.10" y="839.3" width="9.2" height="14.0" fill="#1b6419"/><rect x="489.11" y="796.7" width="9.2" height="43.1" fill="#1b6419"/><rect x="498.11" y="796.7" width="9.2" height="4.4" fill="#1b6419"/><rect x="505.62" y="796.2" width="9.2" height="69.0" fill="#ac2a2c"/><rect x="514.62" y="793.0" width="9.2" height="71.0" fill="#1b6419"/><rect x="523.63" y="786.7" width="9.2" height="13.5" fill="#ac2a2c"/><rect x="531.13" y="800.4" width="9.2" height="27.2" fill="#ac2a2c"/><rect x="540.14" y="821.6" width="9.2" height="5.0" fill="#ac2a2c"/><rect x="549.14" y="824.6" width="9.2" height="3.5" fill="#1b6419"/><rect x="556.64" y="827.3" width="9.2" height="3.5" fill="#ac2a2c"/><rect x="565.65" y="811.6" width="9.2" height="16.0" fill="#1b6419"/><rect x="574.65" y="759.3" width="9.2" height="56.6" fill="#1b6419"/><rect x="582.16" y="715.6" width="9.2" height="45.9" fill="#1b6419"/><rect x="591.16" y="706.8" width="9.2" height="7.2" fill="#1b6419"/><rect x="600.17" y="705.6" width="9.2" height="11.7" fill="#ac2a2c"/><rect x="607.67" y="696.9" width="9.2" height="21.0" fill="#1b6419"/><rect x="616.68" y="694.9" width="9.2" height="21.7" fill="#ac2a2c"/><rect x="625.68" y="713.1" width="9.2" height="52.7" fill="#ac2a2c"/><rect x="633.19" y="762.3" width="9.2" height="13.0" fill="#ac2a2c"/><rect x="642.19" y="771.8" width="9.2" height="29.7" fill="#ac2a2c"/><rect x="651.19" y="801.2" width="9.2" height="15.7" fill="#ac2a2c"/><rect x="658.70" y="815.6" width="9.2" height="36.0" fill="#ac2a2c"/><rect x="667.70" y="851.3" width="9.2" height="45.3" fill="#ac2a2c"/><rect x="676.71" y="881.2" width="9.2" height="12.9" fill="#1b6419"/><rect x="684.21" y="874.3" width="9.2" height="3.7" fill="#1b6419"/><rect x="693.22" y="854.0" width="9.2" height="20.3" fill="#1b6419"/><rect x="702.22" y="824.1" width="9.2" height="32.5" fill="#1b6419"/><rect x="709.73" y="823.8" width="9.2" height="15.6" fill="#ac2a2c"/><rect x="718.73" y="834.6" width="9.2" height="3.5" fill="#1b6419"/><rect x="727.74" y="826.3" width="9.2" height="14.9" fill="#1b6419"/><rect x="735.24" y="824.1" width="9.2" height="3.7" fill="#ac2a2c"/><rect x="744.24" y="825.6" width="9.2" height="12.2" fill="#ac2a2c"/><rect x="753.25" y="834.8" width="9.2" height="47.1" fill="#ac2a2c"/><rect x="760.75" y="819.3" width="9.2" height="60.9" fill="#1b6419"/><rect x="769.76" y="767.3" width="9.2" height="52.8" fill="#1b6419"/><rect x="778.76" y="759.8" width="9.2" height="13.0" fill="#ac2a2c"/><rect x="786.27" y="751.8" width="9.2" height="21.5" fill="#1b6419"/><rect x="795.27" y="754.3" width="9.2" height="7.2" fill="#ac2a2c"/><rect x="804.28" y="760.5" width="9.2" height="44.6" fill="#ac2a2c"/><rect x="811.78" y="765.5" width="9.2" height="39.0" fill="#1b6419"/><rect x="820.79" y="767.3" width="9.2" height="36.7" fill="#ac2a2c"/><rect x="829.79" y="796.2" width="9.2" height="5.2" fill="#1b6419"/><rect x="837.29" y="794.7" width="9.2" height="7.5" fill="#ac2a2c"/><rect x="846.30" y="800.5" width="9.2" height="15.2" fill="#ac2a2c"/><rect x="855.30" y="812.3" width="9.2" height="77.3" fill="#ac2a2c"/><rect x="862.81" y="888.0" width="9.2" height="13.1" fill="#ac2a2c"/><rect x="871.81" y="896.9" width="9.2" height="68.9" fill="#ac2a2c"/><rect x="880.82" y="881.5" width="9.2" height="82.5" fill="#1b6419"/><rect x="888.32" y="867.6" width="9.2" height="17.1" fill="#1b6419"/><rect x="897.33" y="871.5" width="9.2" height="3.5" fill="#ac2a2c"/><rect x="906.33" y="834.3" width="9.2" height="42.9" fill="#1b6419"/><rect x="913.83" y="831.8" width="9.2" height="3.5" fill="#1b6419"/><rect x="922.84" y="830.2" width="9.2" height="57.5" fill="#ac2a2c"/><rect x="931.84" y="814.6" width="9.2" height="73.1" fill="#1b6419"/><rect x="939.35" y="812.1" width="9.2" height="60.7" fill="#ac2a2c"/><rect x="948.35" y="869.8" width="9.2" height="4.7" fill="#ac2a2c"/><rect x="957.36" y="751.5" width="9.2" height="122.5" fill="#1b6419"/><rect x="964.86" y="756.7" width="9.2" height="252.2" fill="#ac2a2c"/><rect x="973.87" y="973.0" width="9.2" height="37.7" fill="#1b6419"/><rect x="982.87" y="767.2" width="9.2" height="205.1" fill="#1b6419"/><rect x="990.38" y="762.9" width="9.2" height="156.1" fill="#ac2a2c"/><rect x="999.38" y="916.3" width="9.2" height="13.5" fill="#ac2a2c"/><rect x="1008.39" y="903.9" width="9.2" height="24.5" fill="#1b6419"/><rect x="1015.89" y="756.2" width="9.2" height="149.7" fill="#1b6419"/><rect x="1024.89" y="753.7" width="9.2" height="7.7" fill="#1b6419"/><rect x="1033.90" y="744.7" width="9.2" height="9.2" fill="#1b6419"/><rect x="1041.40" y="740.5" width="9.2" height="12.2" fill="#1b6419"/><rect x="1050.41" y="702.3" width="9.2" height="38.4" fill="#1b6419"/><rect x="1057.91" y="701.3" width="9.2" height="108.5" fill="#ac2a2c"/><rect x="1066.92" y="683.0" width="9.2" height="127.0" fill="#1b6419"/><rect x="1075.92" y="550.9" width="9.2" height="135.6" fill="#1b6419"/><rect x="1083.43" y="549.8" width="9.2" height="55.6" fill="#ac2a2c"/><rect x="1092.43" y="600.7" width="9.2" height="28.5" fill="#ac2a2c"/><rect x="1101.43" y="600.7" width="9.2" height="30.2" fill="#1b6419"/><rect x="1108.94" y="599.4" width="9.2" height="8.0" fill="#ac2a2c"/><rect x="1117.94" y="593.2" width="9.2" height="13.5" fill="#1b6419"/><rect x="1126.95" y="495.5" width="9.2" height="99.4" fill="#1b6419"/><rect x="1134.45" y="497.2" width="9.2" height="24.2" fill="#ac2a2c"/><rect x="1143.46" y="518.7" width="9.2" height="40.4" fill="#ac2a2c"/><rect x="1152.46" y="534.7" width="9.2" height="24.0" fill="#1b6419"/><rect x="1159.97" y="534.2" width="9.2" height="4.0" fill="#1b6419"/><rect x="1168.97" y="531.7" width="9.2" height="85.7" fill="#ac2a2c"/><rect x="1177.98" y="615.6" width="9.2" height="12.2" fill="#ac2a2c"/><rect x="1185.48" y="627.4" width="9.2" height="29.2" fill="#ac2a2c"/><rect x="1194.48" y="466.3" width="9.2" height="189.1" fill="#1b6419"/><rect x="1203.49" y="465.5" width="9.2" height="14.2" fill="#ac2a2c"/><rect x="1210.99" y="477.3" width="9.2" height="33.5" fill="#ac2a2c"/><rect x="1220.00" y="508.0" width="9.2" height="19.2" fill="#ac2a2c"/><rect x="1229.00" y="524.2" width="9.2" height="27.1" fill="#ac2a2c"/><rect x="1236.51" y="546.8" width="9.2" height="76.1" fill="#ac2a2c"/><rect x="1245.51" y="547.7" width="9.2" height="73.2" fill="#1b6419"/><rect x="1254.52" y="491.7" width="9.2" height="61.1" fill="#1b6419"/><rect x="1262.02" y="483.0" width="9.2" height="11.7" fill="#1b6419"/><rect x="1271.03" y="441.3" width="9.2" height="45.2" fill="#1b6419"/><rect x="1280.03" y="439.3" width="9.2" height="4.7" fill="#ac2a2c"/><rect x="1287.53" y="414.8" width="9.2" height="24.2" fill="#1b6419"/><rect x="1296.54" y="386.9" width="9.2" height="29.7" fill="#1b6419"/><rect x="1305.54" y="337.4" width="9.2" height="50.4" fill="#1b6419"/><rect x="1313.05" y="337.4" width="9.2" height="89.1" fill="#ac2a2c"/><rect x="1322.05" y="424.8" width="9.2" height="21.7" fill="#ac2a2c"/><rect x="1331.06" y="410.6" width="9.2" height="30.2" fill="#1b6419"/><rect x="1338.56" y="391.4" width="9.2" height="23.5" fill="#1b6419"/><rect x="1347.57" y="376.4" width="9.2" height="16.0" fill="#1b6419"/><rect x="1356.57" y="359.4" width="9.2" height="21.5" fill="#1b6419"/><rect x="1364.07" y="356.4" width="9.2" height="56.9" fill="#ac2a2c"/><rect x="1373.08" y="408.1" width="9.2" height="59.2" fill="#ac2a2c"/><rect x="1382.08" y="423.1" width="9.2" height="45.9" fill="#1b6419"/><rect x="1389.59" y="423.6" width="9.2" height="6.7" fill="#ac2a2c"/><rect x="1398.59" y="369.9" width="9.2" height="57.4" fill="#1b6419"/><rect x="1407.60" y="371.9" width="9.2" height="3.5" fill="#ac2a2c"/><rect x="1415.10" y="375.6" width="9.2" height="30.2" fill="#ac2a2c"/><rect x="1424.11" y="358.1" width="9.2" height="46.0" fill="#1b6419"/><rect x="1433.11" y="357.5" width="9.2" height="3.5" fill="#ac2a2c"/><rect x="1440.62" y="318.2" width="9.2" height="44.1" fill="#1b6419"/><rect x="1449.62" y="287.0" width="9.2" height="33.5" fill="#1b6419"/><rect x="1458.63" y="288.7" width="9.2" height="31.7" fill="#ac2a2c"/><rect x="1466.13" y="285.2" width="9.2" height="36.5" fill="#1b6419"/><rect x="1475.13" y="269.5" width="9.2" height="20.2" fill="#1b6419"/><rect x="1484.14" y="272.0" width="9.2" height="15.2" fill="#ac2a2c"/><rect x="1491.64" y="267.0" width="9.2" height="20.2" fill="#1b6419"/><rect x="1500.65" y="268.7" width="9.2" height="35.1" fill="#ac2a2c"/><rect x="1509.65" y="294.5" width="9.2" height="7.7" fill="#1b6419"/><rect x="1517.16" y="289.5" width="9.2" height="14.4" fill="#ac2a2c"/><rect x="1526.16" y="275.2" width="9.2" height="30.0" fill="#1b6419"/><rect x="1535.17" y="246.3" width="9.2" height="29.2" fill="#1b6419"/><rect x="1542.67" y="247.8" width="9.2" height="16.0" fill="#ac2a2c"/><rect x="1551.67" y="193.3" width="9.2" height="71.4" fill="#1b6419"/><rect x="1560.68" y="174.6" width="9.2" height="16.7" fill="#1b6419"/><rect x="1568.18" y="147.2" width="9.2" height="30.2" fill="#1b6419"/><rect x="1577.19" y="150.4" width="9.2" height="20.2" fill="#ac2a2c"/><rect x="1586.19" y="167.1" width="9.2" height="3.5" fill="#1b6419"/><rect x="1593.70" y="168.4" width="9.2" height="17.2" fill="#ac2a2c"/><rect x="1602.70" y="170.4" width="9.2" height="15.2" fill="#1b6419"/><rect x="1611.71" y="154.7" width="9.2" height="17.2" fill="#1b6419"/><rect x="1619.21" y="153.9" width="9.2" height="3.5" fill="#1b6419"/><rect x="1628.22" y="154.7" width="9.2" height="27.7" fill="#ac2a2c"/><rect x="1637.22" y="180.4" width="9.2" height="27.7" fill="#ac2a2c"/><rect x="1644.72" y="182.9" width="9.2" height="29.5" fill="#1b6419"/><rect x="1653.73" y="183.4" width="9.2" height="3.5" fill="#ac2a2c"/><rect x="1662.73" y="182.6" width="9.2" height="3.0" fill="#1b6419"/><rect x="1670.24" y="182.1" width="9.2" height="6.0" fill="#1b6419"/><rect x="1679.24" y="183.9" width="9.2" height="5.5" fill="#ac2a2c"/><rect x="1688.25" y="184.6" width="9.2" height="14.7" fill="#ac2a2c"/><rect x="1695.75" y="183.4" width="9.2" height="15.5" fill="#1b6419"/><rect x="1704.76" y="167.9" width="9.2" height="17.0" fill="#1b6419"/><rect x="1712.26" y="163.9" width="9.2" height="6.0" fill="#1b6419"/><rect x="1721.27" y="158.9" width="9.2" height="12.5" fill="#1b6419"/><rect x="1730.27" y="157.9" width="9.2" height="14.0" fill="#ac2a2c"/><rect x="1737.77" y="149.7" width="9.2" height="19.7" fill="#1b6419"/><rect x="1746.78" y="153.9" width="9.2" height="3.0" fill="#ac2a2c"/><rect x="1755.78" y="144.7" width="9.2" height="11.7" fill="#1b6419"/><rect x="1763.29" y="132.9" width="9.2" height="12.7" fill="#1b6419"/><rect x="1772.29" y="130.4" width="9.2" height="17.7" fill="#ac2a2c"/><rect x="1781.30" y="144.7" width="9.2" height="13.5" fill="#ac2a2c"/><rect x="1788.80" y="154.4" width="9.2" height="3.0" fill="#1b6419"/><rect x="1797.81" y="155.9" width="9.2" height="29.0" fill="#ac2a2c"/><rect x="1806.81" y="182.9" width="9.2" height="33.5" fill="#ac2a2c"/><rect x="1814.31" y="213.3" width="9.2" height="114.6" fill="#ac2a2c"/></g>
<g><rect x="56.18" y="833.3" width="7.6" height="9.2" fill="#1b6419"/><rect x="65.18" y="832.7" width="7.6" height="4.6" fill="#ac2a2c"/><rect x="74.19" y="825.8" width="7.6" height="7.9" fill="#1b6419"/><rect x="81.69" y="825.2" width="7.6" height="2.3" fill="#ac2a2c"/><rect x="90.70" y="818.3" width="7.6" height="7.3" fill="#1b6419"/><rect x="99.70" y="820.2" width="7.6" height="7.3" fill="#ac2a2c"/><rect x="107.20" y="829.2" width="7.6" height="2.7" fill="#ac2a2c"/><rect x="116.21" y="825.2" width="7.6" height="6.7" fill="#1b6419"/><rect x="125.21" y="822.0" width="7.6" height="2.9" fill="#1b6419"/><rect x="132.72" y="822.9" width="7.6" height="17.7" fill="#ac2a2c"/><rect x="141.72" y="838.7" width="7.6" height="11.1" fill="#ac2a2c"/><rect x="150.73" y="850.2" width="7.6" height="2.9" fill="#1b6419"/><rect x="158.23" y="855.2" width="7.6" height="9.8" fill="#ac2a2c"/><rect x="167.24" y="836.4" width="7.6" height="27.4" fill="#1b6419"/><rect x="176.24" y="829.9" width="7.6" height="7.3" fill="#1b6419"/><rect x="183.75" y="828.3" width="7.6" height="28.0" fill="#ac2a2c"/><rect x="192.75" y="822.9" width="7.6" height="33.4" fill="#1b6419"/><rect x="201.75" y="817.4" width="7.6" height="10.1" fill="#1b6419"/><rect x="209.26" y="812.6" width="7.6" height="4.2" fill="#1b6419"/><rect x="218.26" y="812.0" width="7.6" height="15.5" fill="#ac2a2c"/><rect x="227.27" y="820.4" width="7.6" height="67.8" fill="#ac2a2c"/><rect x="234.77" y="888.4" width="7.6" height="5.4" fill="#ac2a2c"/><rect x="243.78" y="891.3" width="7.6" height="15.7" fill="#ac2a2c"/><rect x="252.78" y="901.6" width="7.6" height="32.4" fill="#ac2a2c"/><rect x="260.29" y="905.9" width="7.6" height="28.0" fill="#1b6419"/><rect x="269.29" y="873.8" width="7.6" height="30.4" fill="#1b6419"/><rect x="278.30" y="872.8" width="7.6" height="16.1" fill="#ac2a2c"/><rect x="285.80" y="889.0" width="7.6" height="2.1" fill="#1b6419"/><rect x="294.80" y="885.3" width="7.6" height="2.3" fill="#1b6419"/><rect x="303.81" y="885.0" width="7.6" height="33.5" fill="#ac2a2c"/><rect x="311.31" y="886.2" width="7.6" height="31.0" fill="#1b6419"/><rect x="320.32" y="875.0" width="7.6" height="12.3" fill="#1b6419"/><rect x="329.32" y="877.5" width="7.6" height="37.7" fill="#ac2a2c"/><rect x="336.83" y="898.7" width="7.6" height="17.3" fill="#1b6419"/><rect x="345.83" y="903.7" width="7.6" height="3.5" fill="#ac2a2c"/><rect x="354.84" y="901.7" width="7.6" height="2.5" fill="#1b6419"/><rect x="362.34" y="903.0" width="7.6" height="49.2" fill="#ac2a2c"/><rect x="371.35" y="948.6" width="7.6" height="17.3" fill="#ac2a2c"/><rect x="380.35" y="964.9" width="7.6" height="50.2" fill="#ac2a2c"/><rect x="387.85" y="922.4" width="7.6" height="91.7" fill="#1b6419"/><rect x="396.86" y="918.2" width="7.6" height="30.8" fill="#ac2a2c"/><rect x="404.36" y="949.9" width="7.6" height="92.2" fill="#ac2a2c"/><rect x="413.37" y="956.9" width="7.6" height="71.4" fill="#1b6419"/><rect x="422.37" y="903.7" width="7.6" height="53.5" fill="#1b6419"/><rect x="429.88" y="850.0" width="7.6" height="52.2" fill="#1b6419"/><rect x="438.88" y="846.3" width="7.6" height="47.2" fill="#ac2a2c"/><rect x="447.89" y="891.2" width="7.6" height="41.0" fill="#ac2a2c"/><rect x="455.39" y="916.2" width="7.6" height="13.0" fill="#1b6419"/><rect x="464.39" y="880.5" width="7.6" height="38.5" fill="#1b6419"/><rect x="473.40" y="849.9" width="7.6" height="33.1" fill="#1b6419"/><rect x="480.90" y="839.9" width="7.6" height="12.8" fill="#1b6419"/><rect x="489.91" y="797.3" width="7.6" height="41.9" fill="#1b6419"/><rect x="498.91" y="797.3" width="7.6" height="3.2" fill="#1b6419"/><rect x="506.42" y="796.8" width="7.6" height="67.8" fill="#ac2a2c"/><rect x="515.42" y="793.6" width="7.6" height="69.8" fill="#1b6419"/><rect x="524.43" y="787.3" width="7.6" height="12.3" fill="#ac2a2c"/><rect x="531.93" y="801.0" width="7.6" height="26.0" fill="#ac2a2c"/><rect x="540.94" y="822.2" width="7.6" height="3.8" fill="#ac2a2c"/><rect x="549.94" y="825.2" width="7.6" height="2.3" fill="#1b6419"/><rect x="557.44" y="827.9" width="7.6" height="2.3" fill="#ac2a2c"/><rect x="566.45" y="812.2" width="7.6" height="14.8" fill="#1b6419"/><rect x="575.45" y="759.9" width="7.6" height="55.4" fill="#1b6419"/><rect x="582.96" y="716.2" width="7.6" height="44.7" fill="#1b6419"/><rect x="591.96" y="707.4" width="7.6" height="6.0" fill="#1b6419"/><rect x="600.97" y="706.2" width="7.6" height="10.5" fill="#ac2a2c"/><rect x="608.47" y="697.5" width="7.6" height="19.8" fill="#1b6419"/><rect x="617.48" y="695.5" width="7.6" height="20.5" fill="#ac2a2c"/><rect x="626.48" y="713.7" width="7.6" height="51.5" fill="#ac2a2c"/><rect x="633.99" y="762.9" width="7.6" height="11.8" fill="#ac2a2c"/><rect x="642.99" y="772.4" width="7.6" height="28.5" fill="#ac2a2c"/><rect x="651.99" y="801.8" width="7.6" height="14.5" fill="#ac2a2c"/><rect x="659.50" y="816.2" width="7.6" height="34.8" fill="#ac2a2c"/><rect x="668.50" y="851.9" width="7.6" height="44.1" fill="#ac2a2c"/><rect x="677.51" y="881.8" width="7.6" height="11.7" fill="#1b6419"/><rect x="685.01" y="874.9" width="7.6" height="2.5" fill="#1b6419"/><rect x="694.02" y="854.6" width="7.6" height="19.1" fill="#1b6419"/><rect x="703.02" y="824.7" width="7.6" height="31.3" fill="#1b6419"/><rect x="710.53" y="824.4" width="7.6" height="14.4" fill="#ac2a2c"/><rect x="719.53" y="835.2" width="7.6" height="2.3" fill="#1b6419"/><rect x="728.54" y="826.9" width="7.6" height="13.7" fill="#1b6419"/><rect x="736.04" y="824.7" width="7.6" height="2.5" fill="#ac2a2c"/><rect x="745.04" y="826.2" width="7.6" height="11.0" fill="#ac2a2c"/><rect x="754.05" y="835.4" width="7.6" height="45.9" fill="#ac2a2c"/><rect x="761.55" y="819.9" width="7.6" height="59.7" fill="#1b6419"/><rect x="770.56" y="767.9" width="7.6" height="51.6" fill="#1b6419"/><rect x="779.56" y="760.4" width="7.6" height="11.8" fill="#ac2a2c"/><rect x="787.07" y="752.4" width="7.6" height="20.3" fill="#1b6419"/><rect x="796.07" y="754.9" width="7.6" height="6.0" fill="#ac2a2c"/><rect x="805.08" y="761.1" width="7.6" height="43.4" fill="#ac2a2c"/><rect x="812.58" y="766.1" width="7.6" height="37.8" fill="#1b6419"/><rect x="821.59" y="767.9" width="7.6" height="35.5" fill="#ac2a2c"/><rect x="830.59" y="796.8" width="7.6" height="4.0" fill="#1b6419"/><rect x="838.09" y="795.3" width="7.6" height="6.3" fill="#ac2a2c"/><rect x="847.10" y="801.1" width="7.6" height="14.0" fill="#ac2a2c"/><rect x="856.10" y="812.9" width="7.6" height="76.1" fill="#ac2a2c"/><rect x="863.61" y="888.6" width="7.6" height="11.9" fill="#ac2a2c"/><rect x="872.61" y="897.5" width="7.6" height="67.7" fill="#ac2a2c"/><rect x="881.62" y="882.1" width="7.6" height="81.3" fill="#1b6419"/><rect x="889.12" y="868.2" width="7.6" height="15.9" fill="#1b6419"/><rect x="898.13" y="872.1" width="7.6" height="2.3" fill="#ac2a2c"/><rect x="907.13" y="834.9" width="7.6" height="41.7" fill="#1b6419"/><rect x="914.63" y="832.4" width="7.6" height="2.3" fill="#1b6419"/><rect x="923.64" y="830.8" width="7.6" height="56.3" fill="#ac2a2c"/><rect x="932.64" y="815.2" width="7.6" height="71.9" fill="#1b6419"/><rect x="940.15" y="812.7" width="7.6" height="59.5" fill="#ac2a2c"/><rect x="949.15" y="870.4" width="7.6" height="3.5" fill="#ac2a2c"/><rect x="958.16" y="752.1" width="7.6" height="121.3" fill="#1b6419"/><rect x="965.66" y="757.3" width="7.6" height="251.0" fill="#ac2a2c"/><rect x="974.67" y="973.6" width="7.6" height="36.5" fill="#1b6419"/><rect x="983.67" y="767.8" width="7.6" height="203.9" fill="#1b6419"/><rect x="991.18" y="763.5" width="7.6" height="154.9" fill="#ac2a2c"/><rect x="1000.18" y="916.9" width="7.6" height="12.3" fill="#ac2a2c"/><rect x="1009.19" y="904.5" width="7.6" height="23.3" fill="#1b6419"/><rect x="1016.69" y="756.8" width="7.6" height="148.5" fill="#1b6419"/><rect x="1025.69" y="754.3" width="7.6" height="6.5" fill="#1b6419"/><rect x="1034.70" y="745.3" width="7.6" height="8.0" fill="#1b6419"/><rect x="1042.20" y="741.1" width="7.6" height="11.0" fill="#1b6419"/><rect x="1051.21" y="702.9" width="7.6" height="37.2" fill="#1b6419"/><rect x="1058.71" y="701.9" width="7.6" height="107.3" fill="#ac2a2c"/><rect x="1067.72" y="683.6" width="7.6" height="125.8" fill="#1b6419"/><rect x="1076.72" y="551.5" width="7.6" height="134.4" fill="#1b6419"/><rect x="1084.23" y="550.4" width="7.6" height="54.4" fill="#ac2a2c"/><rect x="1093.23" y="601.3" width="7.6" height="27.3" fill="#ac2a2c"/><rect x="1102.23" y="601.3" width="7.6" height="29.0" fill="#1b6419"/><rect x="1109.74" y="600.0" width="7.6" height="6.8" fill="#ac2a2c"/><rect x="1118.74" y="593.8" width="7.6" height="12.3" fill="#1b6419"/><rect x="1127.75" y="496.1" width="7.6" height="98.2" fill="#1b6419"/><rect x="1135.25" y="497.8" width="7.6" height="23.0" fill="#ac2a2c"/><rect x="1144.26" y="519.3" width="7.6" height="39.2" fill="#ac2a2c"/><rect x="1153.26" y="535.3" width="7.6" height="22.8" fill="#1b6419"/><rect x="1160.77" y="534.8" width="7.6" height="2.8" fill="#1b6419"/><rect x="1169.77" y="532.3" width="7.6" height="84.5" fill="#ac2a2c"/><rect x="1178.78" y="616.2" width="7.6" height="11.0" fill="#ac2a2c"/><rect x="1186.28" y="628.0" width="7.6" height="28.0" fill="#ac2a2c"/><rect x="1195.28" y="466.9" width="7.6" height="187.9" fill="#1b6419"/><rect x="1204.29" y="466.1" width="7.6" height="13.0" fill="#ac2a2c"/><rect x="1211.79" y="477.9" width="7.6" height="32.3" fill="#ac2a2c"/><rect x="1220.80" y="508.6" width="7.6" height="18.0" fill="#ac2a2c"/><rect x="1229.80" y="524.8" width="7.6" height="25.9" fill="#ac2a2c"/><rect x="1237.31" y="547.4" width="7.6" height="74.9" fill="#ac2a2c"/><rect x="1246.31" y="548.3" width="7.6" height="72.0" fill="#1b6419"/><rect x="1255.32" y="492.3" width="7.6" height="59.9" fill="#1b6419"/><rect x="1262.82" y="483.6" width="7.6" height="10.5" fill="#1b6419"/><rect x="1271.83" y="441.9" width="7.6" height="44.0" fill="#1b6419"/><rect x="1280.83" y="439.9" width="7.6" height="3.5" fill="#ac2a2c"/><rect x="1288.33" y="415.4" width="7.6" height="23.0" fill="#1b6419"/><rect x="1297.34" y="387.5" width="7.6" height="28.5" fill="#1b6419"/><rect x="1306.34" y="338.0" width="7.6" height="49.2" fill="#1b6419"/><rect x="1313.85" y="338.0" width="7.6" height="87.9" fill="#ac2a2c"/><rect x="1322.85" y="425.4" width="7.6" height="20.5" fill="#ac2a2c"/><rect x="1331.86" y="411.2" width="7.6" height="29.0" fill="#1b6419"/><rect x="1339.36" y="392.0" width="7.6" height="22.3" fill="#1b6419"/><rect x="1348.37" y="377.0" width="7.6" height="14.8" fill="#1b6419"/><rect x="1357.37" y="360.0" width="7.6" height="20.3" fill="#1b6419"/><rect x="1364.87" y="357.0" width="7.6" height="55.7" fill="#ac2a2c"/><rect x="1373.88" y="408.7" width="7.6" height="58.0" fill="#ac2a2c"/><rect x="1382.88" y="423.7" width="7.6" height="44.7" fill="#1b6419"/><rect x="1390.39" y="424.2" width="7.6" height="5.5" fill="#ac2a2c"/><rect x="1399.39" y="370.5" width="7.6" height="56.2" fill="#1b6419"/><rect x="1408.40" y="372.5" width="7.6" height="2.3" fill="#ac2a2c"/><rect x="1415.90" y="376.2" width="7.6" height="29.0" fill="#ac2a2c"/><rect x="1424.91" y="358.7" width="7.6" height="44.8" fill="#1b6419"/><rect x="1433.91" y="358.1" width="7.6" height="2.3" fill="#ac2a2c"/><rect x="1441.42" y="318.8" width="7.6" height="42.9" fill="#1b6419"/><rect x="1450.42" y="287.6" width="7.6" height="32.3" fill="#1b6419"/><rect x="1459.43" y="289.3" width="7.6" height="30.5" fill="#ac2a2c"/><rect x="1466.93" y="285.8" width="7.6" height="35.3" fill="#1b6419"/><rect x="1475.93" y="270.1" width="7.6" height="19.0" fill="#1b6419"/><rect x="1484.94" y="272.6" width="7.6" height="14.0" fill="#ac2a2c"/><rect x="1492.44" y="267.6" width="7.6" height="19.0" fill="#1b6419"/><rect x="1501.45" y="269.3" width="7.6" height="33.9" fill="#ac2a2c"/><rect x="1510.45" y="295.1" width="7.6" height="6.5" fill="#1b6419"/><rect x="1517.96" y="290.1" width="7.6" height="13.2" fill="#ac2a2c"/><rect x="1526.96" y="275.8" width="7.6" height="28.8" fill="#1b6419"/><rect x="1535.97" y="246.9" width="7.6" height="28.0" fill="#1b6419"/><rect x="1543.47" y="248.4" width="7.6" height="14.8" fill="#ac2a2c"/><rect x="1552.47" y="193.9" width="7.6" height="70.2" fill="#1b6419"/><rect x="1561.48" y="175.2" width="7.6" height="15.5" fill="#1b6419"/><rect x="1568.98" y="147.8" width="7.6" height="29.0" fill="#1b6419"/><rect x="1577.99" y="151.0" width="7.6" height="19.0" fill="#ac2a2c"/><rect x="1586.99" y="167.7" width="7.6" height="2.3" fill="#1b6419"/><rect x="1594.50" y="169.0" width="7.6" height="16.0" fill="#ac2a2c"/><rect x="1603.50" y="171.0" width="7.6" height="14.0" fill="#1b6419"/><rect x="1612.51" y="155.3" width="7.6" height="16.0" fill="#1b6419"/><rect x="1620.01" y="154.5" width="7.6" height="2.3" fill="#1b6419"/><rect x="1629.02" y="155.3" width="7.6" height="26.5" fill="#ac2a2c"/><rect x="1638.02" y="181.0" width="7.6" height="26.5" fill="#ac2a2c"/><rect x="1645.52" y="183.5" width="7.6" height="28.3" fill="#1b6419"/><rect x="1654.53" y="184.0" width="7.6" height="2.3" fill="#ac2a2c"/><rect x="1663.53" y="183.2" width="7.6" height="1.8" fill="#1b6419"/><rect x="1671.04" y="182.7" width="7.6" height="4.8" fill="#1b6419"/><rect x="1680.04" y="184.5" width="7.6" height="4.3" fill="#ac2a2c"/><rect x="1689.05" y="185.2" width="7.6" height="13.5" fill="#ac2a2c"/><rect x="1696.55" y="184.0" width="7.6" height="14.3" fill="#1b6419"/><rect x="1705.56" y="168.5" width="7.6" height="15.8" fill="#1b6419"/><rect x="1713.06" y="164.5" width="7.6" height="4.8" fill="#1b6419"/><rect x="1722.07" y="159.5" width="7.6" height="11.3" fill="#1b6419"/><rect x="1731.07" y="158.5" width="7.6" height="12.8" fill="#ac2a2c"/><rect x="1738.57" y="150.3" width="7.6" height="18.5" fill="#1b6419"/><rect x="1747.58" y="154.5" width="7.6" height="1.8" fill="#ac2a2c"/><rect x="1756.58" y="145.3" width="7.6" height="10.5" fill="#1b6419"/><rect x="1764.09" y="133.5" width="7.6" height="11.5" fill="#1b6419"/><rect x="1773.09" y="131.0" width="7.6" height="16.5" fill="#ac2a2c"/><rect x="1782.10" y="145.3" width="7.6" height="12.3" fill="#ac2a2c"/><rect x="1789.60" y="155.0" width="7.6" height="1.8" fill="#1b6419"/><rect x="1798.61" y="156.5" width="7.6" height="27.8" fill="#ac2a2c"/><rect x="1807.61" y="183.5" width="7.6" height="32.3" fill="#ac2a2c"/><rect x="1815.11" y="213.9" width="7.6" height="113.4" fill="#ac2a2c"/></g>
</g>
<path d="M587.95 681.9 L718.8 609.6 A149.5 149.5 0 0 1 737.45 681.9 Z" fill="#5a78c8" fill-opacity="0.16"/>
<path d="M718.8 609.6 A149.5 149.5 0 0 1 737.45 681.9 L587.95 681.9" fill="none" stroke="#3208f2" stroke-width="1.9"/>
<line x1="587.95" y1="681.9" x2="1641" y2="100.0" stroke="#3208f2" stroke-width="1.9"/>
<text x="745.2" y="687.0" font-size="18.6" fill="#3208f2" font-weight="normal" textLength="39.4" lengthAdjust="spacingAndGlyphs">28.9°</text>
<circle cx="587.95" cy="681.9" r="5.3" fill="none" stroke="#000000" stroke-opacity="0.55" stroke-width="0.8"/>
<circle cx="587.95" cy="681.9" r="4.15" fill="#ffffff" fill-opacity="0.2" stroke="#ededed" stroke-width="1.75"/>
<circle cx="1641" cy="100.0" r="5.3" fill="none" stroke="#000000" stroke-opacity="0.55" stroke-width="0.8"/>
<circle cx="1641" cy="100.0" r="4.15" fill="#ffffff" fill-opacity="0.2" stroke="#ededed" stroke-width="1.75"/>
<rect x="65.9" y="89.05" width="22.1" height="21.9" fill="none" stroke="#dedede" stroke-width="2.2"/>
<rect x="66.4" y="93" width="4.3" height="14.1" fill="none" stroke="#c8c8c8" stroke-width="1.8"/>
<rect x="2098.9" y="89.05" width="22.1" height="21.9" fill="none" stroke="#e4e4e4" stroke-width="2.2"/>
<rect x="2116.4" y="93.1" width="4.1" height="13.8" fill="none" stroke="#d6d6d6" stroke-width="1.8"/>
<rect x="1989.1" y="83.4" width="2.3" height="14.6" fill="#1e90ff"/>
<rect x="1994.9" y="83.4" width="2.3" height="14.6" fill="#1e90ff"/>
<rect x="2094" y="1143" width="37" height="31" fill="#3e3e40"/>
<rect x="2101.9" y="1147.9" width="21.9" height="21.9" fill="none" stroke="#dcdcdc" stroke-width="2.1"/>
<rect x="2106.2" y="1164.8" width="13.4" height="4.6" fill="none" stroke="#dcdcdc" stroke-width="1.7"/>
<rect x="74.1" y="1078.5" width="266" height="40" fill="#1c1c1e" stroke="#39393b" stroke-width="1.8"/>
<path d="M91.2 1097.2 L100 1097.2 L95.6 1103.2 Z" fill="#a8a8a8"/>
<rect x="117.4" y="1089.6" width="18.6" height="18.6" fill="#2f2f32" stroke="#48484d" stroke-width="1"/>
<path d="M121.6 1099.4 L125.4 1103 L132.2 1095.4" fill="none" stroke="#ececec" stroke-width="2.1"/>
<text x="147.0" y="1106.4" font-size="18.4" fill="#babac0" font-weight="bold" textLength="168.6" lengthAdjust="spacingAndGlyphs">GBP/USD 5 Minutes</text>
</svg>
</body></html>
